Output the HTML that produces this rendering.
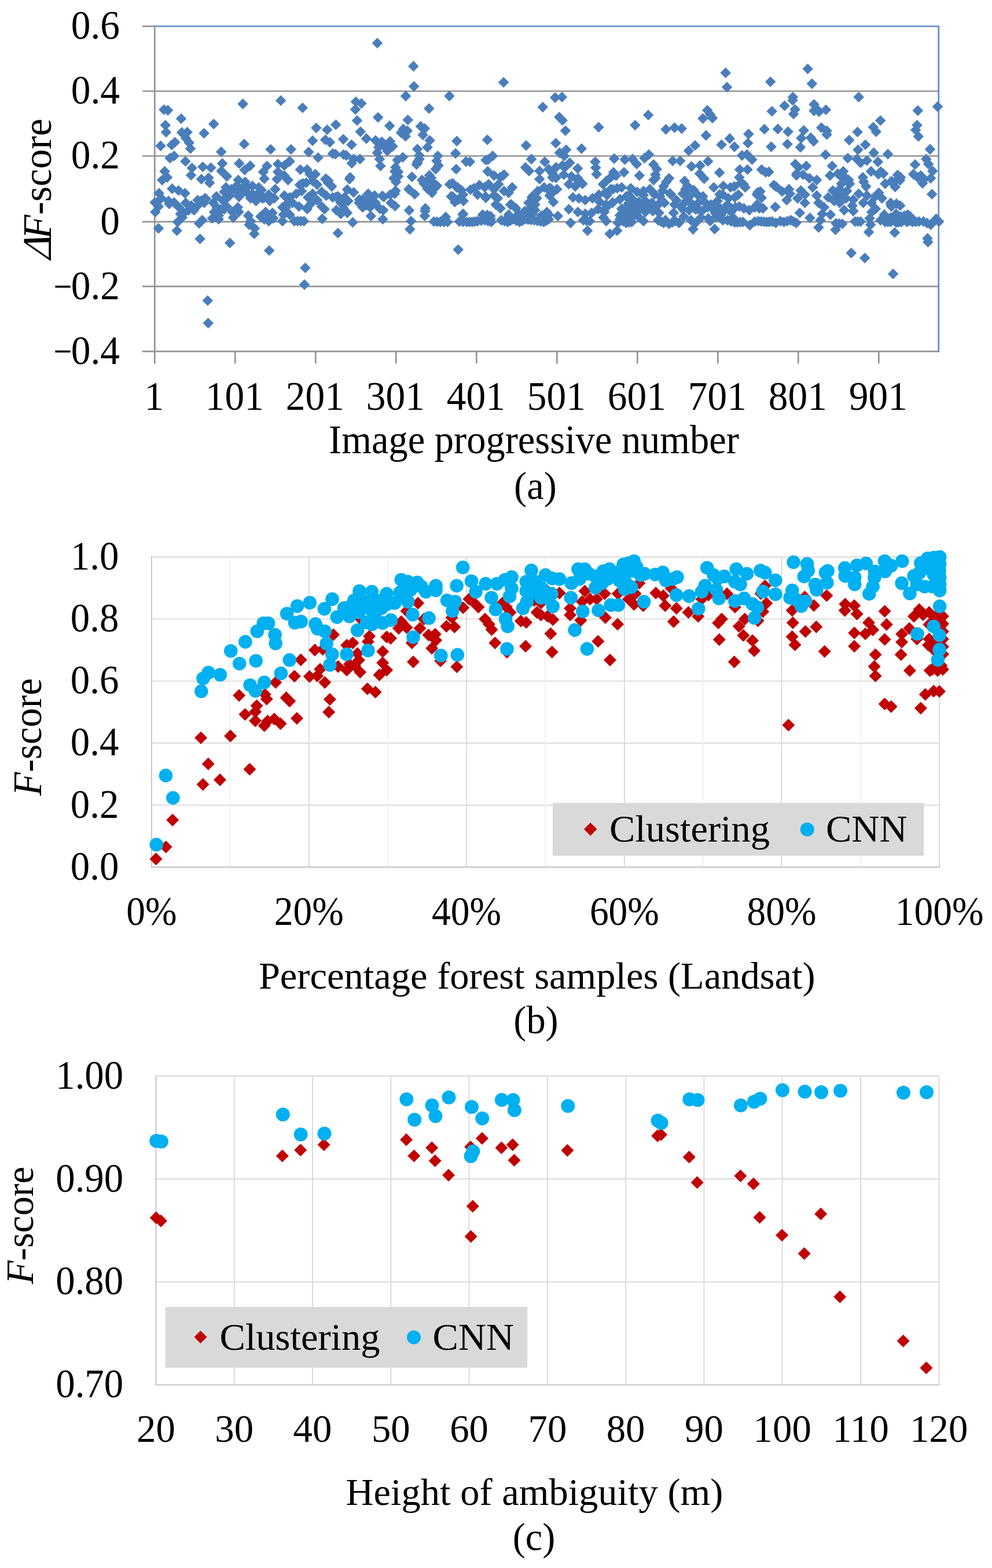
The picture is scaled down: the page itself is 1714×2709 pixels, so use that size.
<!DOCTYPE html>
<html lang="en"><head><meta charset="utf-8"><title>F-score charts</title>
<style>html,body{margin:0;padding:0;background:#fff}svg{display:block}text{font-family:"Liberation Serif","Times New Roman",serif;font-size:66.5px;fill:#000}.i{font-style:italic}</style></head><body>
<svg width="1714" height="2709" viewBox="0 0 1714 2709">
<rect width="1714" height="2709" fill="#fff"/>
<line x1="246.0" y1="45.4" x2="267.3" y2="45.4" stroke="#939393" stroke-width="2.7"/>
<line x1="246.0" y1="157.5" x2="1622.2" y2="157.5" stroke="#939393" stroke-width="2.7"/>
<line x1="246.0" y1="269.5" x2="1622.2" y2="269.5" stroke="#939393" stroke-width="2.7"/>
<line x1="246.0" y1="383.1" x2="1622.2" y2="383.1" stroke="#939393" stroke-width="2.7"/>
<line x1="246.0" y1="494.8" x2="1622.2" y2="494.8" stroke="#939393" stroke-width="2.7"/>
<line x1="246.0" y1="607.2" x2="1622.2" y2="607.2" stroke="#939393" stroke-width="2.7"/>
<line x1="267.3" y1="44.0" x2="267.3" y2="628.2" stroke="#939393" stroke-width="2.7"/>
<line x1="406.3" y1="607.2" x2="406.3" y2="628.2" stroke="#939393" stroke-width="2.7"/>
<line x1="545.3" y1="607.2" x2="545.3" y2="628.2" stroke="#939393" stroke-width="2.7"/>
<line x1="684.3" y1="607.2" x2="684.3" y2="628.2" stroke="#939393" stroke-width="2.7"/>
<line x1="823.3" y1="607.2" x2="823.3" y2="628.2" stroke="#939393" stroke-width="2.7"/>
<line x1="962.3" y1="607.2" x2="962.3" y2="628.2" stroke="#939393" stroke-width="2.7"/>
<line x1="1101.3" y1="607.2" x2="1101.3" y2="628.2" stroke="#939393" stroke-width="2.7"/>
<line x1="1240.3" y1="607.2" x2="1240.3" y2="628.2" stroke="#939393" stroke-width="2.7"/>
<line x1="1379.3" y1="607.2" x2="1379.3" y2="628.2" stroke="#939393" stroke-width="2.7"/>
<line x1="1518.3" y1="607.2" x2="1518.3" y2="628.2" stroke="#939393" stroke-width="2.7"/>
<line x1="268.3" y1="45.4" x2="1623.1" y2="45.4" stroke="#6c96cf" stroke-width="2.6"/>
<line x1="1621.8" y1="45.4" x2="1621.8" y2="608.3" stroke="#5b8ac9" stroke-width="2.6"/>
<text transform="translate(207.0 67.1) scale(1.013 1.062)" text-anchor="end">0.6</text>
<text transform="translate(207.0 179.2) scale(1.013 1.062)" text-anchor="end">0.4</text>
<text transform="translate(207.0 291.2) scale(1.013 1.062)" text-anchor="end">0.2</text>
<text transform="translate(207.0 404.8) scale(1.013 1.062)" text-anchor="end">0</text>
<text transform="translate(207.0 516.5) scale(1.013 1.062)" text-anchor="end"><tspan dy="-4.4" textLength="25.2" lengthAdjust="spacingAndGlyphs">–</tspan><tspan dy="4.4" dx="1.6">0.2</tspan></text>
<text transform="translate(207.0 628.9) scale(1.013 1.062)" text-anchor="end"><tspan dy="-4.4" textLength="25.2" lengthAdjust="spacingAndGlyphs">–</tspan><tspan dy="4.4" dx="1.6">0.4</tspan></text>
<text transform="translate(266.3 708.1) scale(1.013 1.062)" text-anchor="middle">1</text>
<text transform="translate(405.3 708.1) scale(1.013 1.062)" text-anchor="middle">101</text>
<text transform="translate(544.3 708.1) scale(1.013 1.062)" text-anchor="middle">201</text>
<text transform="translate(683.3 708.1) scale(1.013 1.062)" text-anchor="middle">301</text>
<text transform="translate(822.3 708.1) scale(1.013 1.062)" text-anchor="middle">401</text>
<text transform="translate(961.3 708.1) scale(1.013 1.062)" text-anchor="middle">501</text>
<text transform="translate(1100.3 708.1) scale(1.013 1.062)" text-anchor="middle">601</text>
<text transform="translate(1239.3 708.1) scale(1.013 1.062)" text-anchor="middle">701</text>
<text transform="translate(1378.3 708.1) scale(1.013 1.062)" text-anchor="middle">801</text>
<text transform="translate(1517.3 708.1) scale(1.013 1.062)" text-anchor="middle">901</text>
<text transform="translate(922.5 783.2) scale(1.000 1.040)" text-anchor="middle">Image progressive number</text>
<text transform="translate(925.0 861.7) scale(1.000 1.033)" text-anchor="middle">(a)</text>
<g transform="translate(88 334.4) rotate(-90) scale(1.023 1.06)"><text transform="translate(-116 0) skewX(-19)" text-anchor="start">Δ</text><text x="-76.5" y="0" text-anchor="start"><tspan class="i">F</tspan>-score</text></g>
<path d="M318.0 358.8l9.3 9.3l-9.3 9.3l-9.3 -9.3zM381.3 352.6l9.3 9.3l-9.3 9.3l-9.3 -9.3zM292.4 342.9l9.3 9.3l-9.3 9.3l-9.3 -9.3zM346.2 340.4l9.3 9.3l-9.3 9.3l-9.3 -9.3zM385.2 337.1l9.3 9.3l-9.3 9.3l-9.3 -9.3zM391.9 347.7l9.3 9.3l-9.3 9.3l-9.3 -9.3zM356.0 334.3l9.3 9.3l-9.3 9.3l-9.3 -9.3zM388.4 351.0l9.3 9.3l-9.3 9.3l-9.3 -9.3zM347.9 337.6l9.3 9.3l-9.3 9.3l-9.3 -9.3zM499.6 270.0l9.3 9.3l-9.3 9.3l-9.3 -9.3zM412.9 330.8l9.3 9.3l-9.3 9.3l-9.3 -9.3zM523.5 307.4l9.3 9.3l-9.3 9.3l-9.3 -9.3zM517.9 310.2l9.3 9.3l-9.3 9.3l-9.3 -9.3zM530.8 352.0l9.3 9.3l-9.3 9.3l-9.3 -9.3zM456.0 332.4l9.3 9.3l-9.3 9.3l-9.3 -9.3zM494.0 349.4l9.3 9.3l-9.3 9.3l-9.3 -9.3zM467.9 362.0l9.3 9.3l-9.3 9.3l-9.3 -9.3zM656.3 351.4l9.3 9.3l-9.3 9.3l-9.3 -9.3zM567.4 303.0l9.3 9.3l-9.3 9.3l-9.3 -9.3zM683.4 320.3l9.3 9.3l-9.3 9.3l-9.3 -9.3zM603.9 300.2l9.3 9.3l-9.3 9.3l-9.3 -9.3zM580.8 330.8l9.3 9.3l-9.3 9.3l-9.3 -9.3zM620.8 335.6l9.3 9.3l-9.3 9.3l-9.3 -9.3zM660.7 329.1l9.3 9.3l-9.3 9.3l-9.3 -9.3zM563.3 299.7l9.3 9.3l-9.3 9.3l-9.3 -9.3zM595.2 340.9l9.3 9.3l-9.3 9.3l-9.3 -9.3zM812.8 318.4l9.3 9.3l-9.3 9.3l-9.3 -9.3zM685.1 294.1l9.3 9.3l-9.3 9.3l-9.3 -9.3zM805.2 269.8l9.3 9.3l-9.3 9.3l-9.3 -9.3zM790.6 314.3l9.3 9.3l-9.3 9.3l-9.3 -9.3zM755.0 311.5l9.3 9.3l-9.3 9.3l-9.3 -9.3zM747.4 311.5l9.3 9.3l-9.3 9.3l-9.3 -9.3zM682.3 287.0l9.3 9.3l-9.3 9.3l-9.3 -9.3zM734.5 305.6l9.3 9.3l-9.3 9.3l-9.3 -9.3zM732.1 307.6l9.3 9.3l-9.3 9.3l-9.3 -9.3zM792.3 335.4l9.3 9.3l-9.3 9.3l-9.3 -9.3zM777.0 309.2l9.3 9.3l-9.3 9.3l-9.3 -9.3zM799.8 361.1l9.3 9.3l-9.3 9.3l-9.3 -9.3zM741.9 293.6l9.3 9.3l-9.3 9.3l-9.3 -9.3zM721.3 272.9l9.3 9.3l-9.3 9.3l-9.3 -9.3zM782.2 330.3l9.3 9.3l-9.3 9.3l-9.3 -9.3zM734.4 355.1l9.3 9.3l-9.3 9.3l-9.3 -9.3zM843.6 265.9l9.3 9.3l-9.3 9.3l-9.3 -9.3zM858.4 333.1l9.3 9.3l-9.3 9.3l-9.3 -9.3zM853.8 328.1l9.3 9.3l-9.3 9.3l-9.3 -9.3zM948.8 316.0l9.3 9.3l-9.3 9.3l-9.3 -9.3zM907.9 280.1l9.3 9.3l-9.3 9.3l-9.3 -9.3zM847.8 369.4l9.3 9.3l-9.3 9.3l-9.3 -9.3zM864.3 296.8l9.3 9.3l-9.3 9.3l-9.3 -9.3zM869.2 294.0l9.3 9.3l-9.3 9.3l-9.3 -9.3zM883.4 344.0l9.3 9.3l-9.3 9.3l-9.3 -9.3zM956.2 321.9l9.3 9.3l-9.3 9.3l-9.3 -9.3zM839.1 330.3l9.3 9.3l-9.3 9.3l-9.3 -9.3zM841.7 362.1l9.3 9.3l-9.3 9.3l-9.3 -9.3zM919.4 332.5l9.3 9.3l-9.3 9.3l-9.3 -9.3zM837.5 314.3l9.3 9.3l-9.3 9.3l-9.3 -9.3zM996.6 300.9l9.3 9.3l-9.3 9.3l-9.3 -9.3zM1084.0 359.2l9.3 9.3l-9.3 9.3l-9.3 -9.3zM976.9 279.0l9.3 9.3l-9.3 9.3l-9.3 -9.3zM1047.6 349.2l9.3 9.3l-9.3 9.3l-9.3 -9.3zM1059.0 317.9l9.3 9.3l-9.3 9.3l-9.3 -9.3zM1086.8 329.6l9.3 9.3l-9.3 9.3l-9.3 -9.3zM1064.3 294.2l9.3 9.3l-9.3 9.3l-9.3 -9.3zM1093.5 353.8l9.3 9.3l-9.3 9.3l-9.3 -9.3zM1132.6 298.5l9.3 9.3l-9.3 9.3l-9.3 -9.3zM1128.8 343.4l9.3 9.3l-9.3 9.3l-9.3 -9.3zM1205.8 351.9l9.3 9.3l-9.3 9.3l-9.3 -9.3zM1236.0 359.2l9.3 9.3l-9.3 9.3l-9.3 -9.3zM1284.8 309.2l9.3 9.3l-9.3 9.3l-9.3 -9.3zM1268.8 312.8l9.3 9.3l-9.3 9.3l-9.3 -9.3zM1243.4 326.6l9.3 9.3l-9.3 9.3l-9.3 -9.3zM1309.4 323.0l9.3 9.3l-9.3 9.3l-9.3 -9.3zM1266.1 368.2l9.3 9.3l-9.3 9.3l-9.3 -9.3zM1308.8 344.5l9.3 9.3l-9.3 9.3l-9.3 -9.3zM1341.2 313.5l9.3 9.3l-9.3 9.3l-9.3 -9.3zM1328.5 287.6l9.3 9.3l-9.3 9.3l-9.3 -9.3zM1307.8 326.8l9.3 9.3l-9.3 9.3l-9.3 -9.3zM1376.1 293.7l9.3 9.3l-9.3 9.3l-9.3 -9.3zM1307.3 345.1l9.3 9.3l-9.3 9.3l-9.3 -9.3zM1270.7 348.6l9.3 9.3l-9.3 9.3l-9.3 -9.3zM1521.9 287.3l9.3 9.3l-9.3 9.3l-9.3 -9.3zM1459.0 330.5l9.3 9.3l-9.3 9.3l-9.3 -9.3zM1453.7 296.1l9.3 9.3l-9.3 9.3l-9.3 -9.3zM1506.1 357.1l9.3 9.3l-9.3 9.3l-9.3 -9.3zM1585.3 296.9l9.3 9.3l-9.3 9.3l-9.3 -9.3zM1537.9 370.8l9.3 9.3l-9.3 9.3l-9.3 -9.3zM1548.8 342.5l9.3 9.3l-9.3 9.3l-9.3 -9.3zM1552.5 298.1l9.3 9.3l-9.3 9.3l-9.3 -9.3zM1539.5 345.2l9.3 9.3l-9.3 9.3l-9.3 -9.3zM1568.2 361.5l9.3 9.3l-9.3 9.3l-9.3 -9.3zM1542.7 307.2l9.3 9.3l-9.3 9.3l-9.3 -9.3zM1555.1 302.1l9.3 9.3l-9.3 9.3l-9.3 -9.3zM1551.0 292.9l9.3 9.3l-9.3 9.3l-9.3 -9.3zM514.1 372.7l9.3 9.3l-9.3 9.3l-9.3 -9.3zM519.6 372.7l9.3 9.3l-9.3 9.3l-9.3 -9.3zM755.2 373.8l9.3 9.3l-9.3 9.3l-9.3 -9.3zM767.0 374.2l9.3 9.3l-9.3 9.3l-9.3 -9.3zM800.0 373.8l9.3 9.3l-9.3 9.3l-9.3 -9.3zM811.1 374.2l9.3 9.3l-9.3 9.3l-9.3 -9.3zM820.5 373.5l9.3 9.3l-9.3 9.3l-9.3 -9.3zM831.5 371.9l9.3 9.3l-9.3 9.3l-9.3 -9.3zM843.3 372.7l9.3 9.3l-9.3 9.3l-9.3 -9.3zM871.7 372.7l9.3 9.3l-9.3 9.3l-9.3 -9.3zM881.9 371.9l9.3 9.3l-9.3 9.3l-9.3 -9.3zM892.2 371.9l9.3 9.3l-9.3 9.3l-9.3 -9.3zM902.4 371.9l9.3 9.3l-9.3 9.3l-9.3 -9.3zM912.4 370.0l9.3 9.3l-9.3 9.3l-9.3 -9.3zM917.6 370.6l9.3 9.3l-9.3 9.3l-9.3 -9.3zM928.4 372.1l9.3 9.3l-9.3 9.3l-9.3 -9.3zM933.9 373.2l9.3 9.3l-9.3 9.3l-9.3 -9.3zM943.7 371.9l9.3 9.3l-9.3 9.3l-9.3 -9.3zM1013.5 371.9l9.3 9.3l-9.3 9.3l-9.3 -9.3zM1076.5 372.7l9.3 9.3l-9.3 9.3l-9.3 -9.3zM1086.7 375.0l9.3 9.3l-9.3 9.3l-9.3 -9.3zM1141.9 373.5l9.3 9.3l-9.3 9.3l-9.3 -9.3zM1161.5 375.0l9.3 9.3l-9.3 9.3l-9.3 -9.3zM1263.2 373.1l9.3 9.3l-9.3 9.3l-9.3 -9.3zM1274.2 374.8l9.3 9.3l-9.3 9.3l-9.3 -9.3zM1278.9 374.5l9.3 9.3l-9.3 9.3l-9.3 -9.3zM1315.2 373.2l9.3 9.3l-9.3 9.3l-9.3 -9.3zM1319.9 373.7l9.3 9.3l-9.3 9.3l-9.3 -9.3zM1329.3 373.8l9.3 9.3l-9.3 9.3l-9.3 -9.3zM1360.4 372.7l9.3 9.3l-9.3 9.3l-9.3 -9.3zM1371.1 373.5l9.3 9.3l-9.3 9.3l-9.3 -9.3zM1449.9 377.0l9.3 9.3l-9.3 9.3l-9.3 -9.3zM1482.2 373.5l9.3 9.3l-9.3 9.3l-9.3 -9.3zM1534.1 374.2l9.3 9.3l-9.3 9.3l-9.3 -9.3zM1553.0 374.6l9.3 9.3l-9.3 9.3l-9.3 -9.3zM1571.9 371.9l9.3 9.3l-9.3 9.3l-9.3 -9.3zM1582.2 373.8l9.3 9.3l-9.3 9.3l-9.3 -9.3zM1601.9 376.2l9.3 9.3l-9.3 9.3l-9.3 -9.3zM1612.9 373.8l9.3 9.3l-9.3 9.3l-9.3 -9.3zM1543.1 464.0l9.3 9.3l-9.3 9.3l-9.3 -9.3zM359.7 549.0l9.3 9.3l-9.3 9.3l-9.3 -9.3zM358.8 509.9l9.3 9.3l-9.3 9.3l-9.3 -9.3zM526.0 482.4l9.3 9.3l-9.3 9.3l-9.3 -9.3zM527.4 453.4l9.3 9.3l-9.3 9.3l-9.3 -9.3zM1395.6 109.7l9.3 9.3l-9.3 9.3l-9.3 -9.3zM1253.7 116.6l9.3 9.3l-9.3 9.3l-9.3 -9.3zM714.3 105.1l9.3 9.3l-9.3 9.3l-9.3 -9.3zM651.9 65.2l9.3 9.3l-9.3 9.3l-9.3 -9.3zM1494.3 436.4l9.3 9.3l-9.3 9.3l-9.3 -9.3zM1470.8 427.8l9.3 9.3l-9.3 9.3l-9.3 -9.3zM1602.6 402.6l9.3 9.3l-9.3 9.3l-9.3 -9.3zM1603.4 408.9l9.3 9.3l-9.3 9.3l-9.3 -9.3zM1545.9 392.4l9.3 9.3l-9.3 9.3l-9.3 -9.3zM1622.3 373.5l9.3 9.3l-9.3 9.3l-9.3 -9.3zM1617.6 368.7l9.3 9.3l-9.3 9.3l-9.3 -9.3zM1608.1 379.0l9.3 9.3l-9.3 9.3l-9.3 -9.3zM1595.6 373.5l9.3 9.3l-9.3 9.3l-9.3 -9.3zM1587.7 373.5l9.3 9.3l-9.3 9.3l-9.3 -9.3zM1576.7 374.2l9.3 9.3l-9.3 9.3l-9.3 -9.3zM1567.2 374.2l9.3 9.3l-9.3 9.3l-9.3 -9.3zM1557.8 374.2l9.3 9.3l-9.3 9.3l-9.3 -9.3zM1548.3 375.0l9.3 9.3l-9.3 9.3l-9.3 -9.3zM1538.9 374.2l9.3 9.3l-9.3 9.3l-9.3 -9.3zM1529.4 374.2l9.3 9.3l-9.3 9.3l-9.3 -9.3zM1521.5 371.1l9.3 9.3l-9.3 9.3l-9.3 -9.3zM1443.6 387.6l9.3 9.3l-9.3 9.3l-9.3 -9.3zM1455.4 377.4l9.3 9.3l-9.3 9.3l-9.3 -9.3zM1444.4 376.6l9.3 9.3l-9.3 9.3l-9.3 -9.3zM1486.9 373.5l9.3 9.3l-9.3 9.3l-9.3 -9.3zM1477.4 373.5l9.3 9.3l-9.3 9.3l-9.3 -9.3zM1501.1 391.6l9.3 9.3l-9.3 9.3l-9.3 -9.3zM1504.2 379.0l9.3 9.3l-9.3 9.3l-9.3 -9.3zM1502.6 367.9l9.3 9.3l-9.3 9.3l-9.3 -9.3zM1576.7 369.5l9.3 9.3l-9.3 9.3l-9.3 -9.3zM1571.9 364.0l9.3 9.3l-9.3 9.3l-9.3 -9.3zM1562.5 363.2l9.3 9.3l-9.3 9.3l-9.3 -9.3zM1556.2 364.8l9.3 9.3l-9.3 9.3l-9.3 -9.3zM1548.3 360.1l9.3 9.3l-9.3 9.3l-9.3 -9.3zM1538.9 366.4l9.3 9.3l-9.3 9.3l-9.3 -9.3zM1527.8 361.6l9.3 9.3l-9.3 9.3l-9.3 -9.3zM1555.4 345.9l9.3 9.3l-9.3 9.3l-9.3 -9.3zM1540.4 347.5l9.3 9.3l-9.3 9.3l-9.3 -9.3zM1538.9 341.2l9.3 9.3l-9.3 9.3l-9.3 -9.3zM1512.9 351.4l9.3 9.3l-9.3 9.3l-9.3 -9.3zM1414.4 383.7l9.3 9.3l-9.3 9.3l-9.3 -9.3zM1417.6 371.1l9.3 9.3l-9.3 9.3l-9.3 -9.3zM1420.7 360.1l9.3 9.3l-9.3 9.3l-9.3 -9.3zM1434.9 361.6l9.3 9.3l-9.3 9.3l-9.3 -9.3zM1423.9 349.0l9.3 9.3l-9.3 9.3l-9.3 -9.3zM1444.4 330.1l9.3 9.3l-9.3 9.3l-9.3 -9.3zM1431.0 331.7l9.3 9.3l-9.3 9.3l-9.3 -9.3zM1441.2 338.0l9.3 9.3l-9.3 9.3l-9.3 -9.3zM1450.7 341.2l9.3 9.3l-9.3 9.3l-9.3 -9.3zM1458.5 353.8l9.3 9.3l-9.3 9.3l-9.3 -9.3zM1474.3 355.3l9.3 9.3l-9.3 9.3l-9.3 -9.3zM1472.7 345.9l9.3 9.3l-9.3 9.3l-9.3 -9.3zM1474.3 335.7l9.3 9.3l-9.3 9.3l-9.3 -9.3zM1491.6 341.2l9.3 9.3l-9.3 9.3l-9.3 -9.3zM1497.9 328.6l9.3 9.3l-9.3 9.3l-9.3 -9.3zM1523.9 333.3l9.3 9.3l-9.3 9.3l-9.3 -9.3zM1512.1 330.1l9.3 9.3l-9.3 9.3l-9.3 -9.3zM1518.4 323.8l9.3 9.3l-9.3 9.3l-9.3 -9.3zM1610.2 326.2l9.3 9.3l-9.3 9.3l-9.3 -9.3zM1463.3 320.7l9.3 9.3l-9.3 9.3l-9.3 -9.3zM1450.7 317.6l9.3 9.3l-9.3 9.3l-9.3 -9.3zM1438.9 319.9l9.3 9.3l-9.3 9.3l-9.3 -9.3zM1453.8 308.1l9.3 9.3l-9.3 9.3l-9.3 -9.3zM1468.0 308.1l9.3 9.3l-9.3 9.3l-9.3 -9.3zM1466.4 301.8l9.3 9.3l-9.3 9.3l-9.3 -9.3zM1458.5 295.5l9.3 9.3l-9.3 9.3l-9.3 -9.3zM1457.0 286.8l9.3 9.3l-9.3 9.3l-9.3 -9.3zM1447.5 290.8l9.3 9.3l-9.3 9.3l-9.3 -9.3zM1434.1 293.9l9.3 9.3l-9.3 9.3l-9.3 -9.3zM1496.3 312.8l9.3 9.3l-9.3 9.3l-9.3 -9.3zM1492.4 305.0l9.3 9.3l-9.3 9.3l-9.3 -9.3zM1490.8 297.1l9.3 9.3l-9.3 9.3l-9.3 -9.3zM1546.7 313.6l9.3 9.3l-9.3 9.3l-9.3 -9.3zM1529.4 308.1l9.3 9.3l-9.3 9.3l-9.3 -9.3zM1540.4 303.4l9.3 9.3l-9.3 9.3l-9.3 -9.3zM1526.3 290.8l9.3 9.3l-9.3 9.3l-9.3 -9.3zM1517.6 291.6l9.3 9.3l-9.3 9.3l-9.3 -9.3zM1505.0 286.8l9.3 9.3l-9.3 9.3l-9.3 -9.3zM1556.2 297.1l9.3 9.3l-9.3 9.3l-9.3 -9.3zM1594.0 307.3l9.3 9.3l-9.3 9.3l-9.3 -9.3zM1597.1 300.2l9.3 9.3l-9.3 9.3l-9.3 -9.3zM1608.1 298.7l9.3 9.3l-9.3 9.3l-9.3 -9.3zM1590.8 293.9l9.3 9.3l-9.3 9.3l-9.3 -9.3zM1578.2 291.6l9.3 9.3l-9.3 9.3l-9.3 -9.3zM1611.3 286.1l9.3 9.3l-9.3 9.3l-9.3 -9.3zM1581.1 275.0l9.3 9.3l-9.3 9.3l-9.3 -9.3zM1604.2 274.2l9.3 9.3l-9.3 9.3l-9.3 -9.3zM1600.3 265.6l9.3 9.3l-9.3 9.3l-9.3 -9.3zM1437.8 277.4l9.3 9.3l-9.3 9.3l-9.3 -9.3zM1516.8 270.3l9.3 9.3l-9.3 9.3l-9.3 -9.3zM1497.9 267.9l9.3 9.3l-9.3 9.3l-9.3 -9.3zM1486.9 271.9l9.3 9.3l-9.3 9.3l-9.3 -9.3zM1480.6 265.6l9.3 9.3l-9.3 9.3l-9.3 -9.3zM1464.8 264.0l9.3 9.3l-9.3 9.3l-9.3 -9.3zM1426.3 258.0l9.3 9.3l-9.3 9.3l-9.3 -9.3zM1607.0 248.6l9.3 9.3l-9.3 9.3l-9.3 -9.3zM1534.1 256.9l9.3 9.3l-9.3 9.3l-9.3 -9.3zM1509.7 254.6l9.3 9.3l-9.3 9.3l-9.3 -9.3zM1482.5 249.5l9.3 9.3l-9.3 9.3l-9.3 -9.3zM1495.2 240.7l9.3 9.3l-9.3 9.3l-9.3 -9.3zM1467.2 232.8l9.3 9.3l-9.3 9.3l-9.3 -9.3zM1481.7 218.7l9.3 9.3l-9.3 9.3l-9.3 -9.3zM1428.6 223.1l9.3 9.3l-9.3 9.3l-9.3 -9.3zM1428.6 216.8l9.3 9.3l-9.3 9.3l-9.3 -9.3zM1419.2 211.3l9.3 9.3l-9.3 9.3l-9.3 -9.3zM1586.9 226.5l9.3 9.3l-9.3 9.3l-9.3 -9.3zM1582.2 215.2l9.3 9.3l-9.3 9.3l-9.3 -9.3zM1584.5 207.0l9.3 9.3l-9.3 9.3l-9.3 -9.3zM1513.7 218.3l9.3 9.3l-9.3 9.3l-9.3 -9.3zM1508.9 210.5l9.3 9.3l-9.3 9.3l-9.3 -9.3zM1521.2 199.0l9.3 9.3l-9.3 9.3l-9.3 -9.3zM1415.2 183.7l9.3 9.3l-9.3 9.3l-9.3 -9.3zM1427.0 180.5l9.3 9.3l-9.3 9.3l-9.3 -9.3zM1585.8 181.8l9.3 9.3l-9.3 9.3l-9.3 -9.3zM1620.0 175.0l9.3 9.3l-9.3 9.3l-9.3 -9.3zM1483.7 158.5l9.3 9.3l-9.3 9.3l-9.3 -9.3zM1564.1 368.7l9.3 9.3l-9.3 9.3l-9.3 -9.3zM1546.7 369.5l9.3 9.3l-9.3 9.3l-9.3 -9.3zM1505.8 341.2l9.3 9.3l-9.3 9.3l-9.3 -9.3zM1483.7 325.4l9.3 9.3l-9.3 9.3l-9.3 -9.3zM1461.7 333.3l9.3 9.3l-9.3 9.3l-9.3 -9.3zM1452.2 328.6l9.3 9.3l-9.3 9.3l-9.3 -9.3zM1234.8 386.5l9.3 9.3l-9.3 9.3l-9.3 -9.3zM1197.5 386.8l9.3 9.3l-9.3 9.3l-9.3 -9.3zM1375.8 375.8l9.3 9.3l-9.3 9.3l-9.3 -9.3zM1366.3 371.1l9.3 9.3l-9.3 9.3l-9.3 -9.3zM1354.5 374.2l9.3 9.3l-9.3 9.3l-9.3 -9.3zM1348.2 372.7l9.3 9.3l-9.3 9.3l-9.3 -9.3zM1340.4 375.8l9.3 9.3l-9.3 9.3l-9.3 -9.3zM1334.1 373.5l9.3 9.3l-9.3 9.3l-9.3 -9.3zM1324.6 374.2l9.3 9.3l-9.3 9.3l-9.3 -9.3zM1310.4 372.7l9.3 9.3l-9.3 9.3l-9.3 -9.3zM1304.1 373.5l9.3 9.3l-9.3 9.3l-9.3 -9.3zM1295.5 379.8l9.3 9.3l-9.3 9.3l-9.3 -9.3zM1283.7 374.2l9.3 9.3l-9.3 9.3l-9.3 -9.3zM1269.5 375.0l9.3 9.3l-9.3 9.3l-9.3 -9.3zM1266.3 366.4l9.3 9.3l-9.3 9.3l-9.3 -9.3zM1256.9 371.1l9.3 9.3l-9.3 9.3l-9.3 -9.3zM1245.9 361.6l9.3 9.3l-9.3 9.3l-9.3 -9.3zM1238.0 364.8l9.3 9.3l-9.3 9.3l-9.3 -9.3zM1227.0 372.7l9.3 9.3l-9.3 9.3l-9.3 -9.3zM1223.8 367.9l9.3 9.3l-9.3 9.3l-9.3 -9.3zM1201.8 375.8l9.3 9.3l-9.3 9.3l-9.3 -9.3zM1193.9 371.1l9.3 9.3l-9.3 9.3l-9.3 -9.3zM1399.4 367.2l9.3 9.3l-9.3 9.3l-9.3 -9.3zM1381.8 358.5l9.3 9.3l-9.3 9.3l-9.3 -9.3zM1339.6 348.3l9.3 9.3l-9.3 9.3l-9.3 -9.3zM1318.3 350.6l9.3 9.3l-9.3 9.3l-9.3 -9.3zM1312.0 350.6l9.3 9.3l-9.3 9.3l-9.3 -9.3zM1304.1 349.0l9.3 9.3l-9.3 9.3l-9.3 -9.3zM1294.7 353.8l9.3 9.3l-9.3 9.3l-9.3 -9.3zM1285.2 350.6l9.3 9.3l-9.3 9.3l-9.3 -9.3zM1277.4 347.5l9.3 9.3l-9.3 9.3l-9.3 -9.3zM1252.2 353.8l9.3 9.3l-9.3 9.3l-9.3 -9.3zM1242.7 349.0l9.3 9.3l-9.3 9.3l-9.3 -9.3zM1212.8 355.3l9.3 9.3l-9.3 9.3l-9.3 -9.3zM1201.8 352.2l9.3 9.3l-9.3 9.3l-9.3 -9.3zM1190.7 353.8l9.3 9.3l-9.3 9.3l-9.3 -9.3zM1275.8 327.0l9.3 9.3l-9.3 9.3l-9.3 -9.3zM1269.5 331.7l9.3 9.3l-9.3 9.3l-9.3 -9.3zM1258.5 333.3l9.3 9.3l-9.3 9.3l-9.3 -9.3zM1249.0 327.0l9.3 9.3l-9.3 9.3l-9.3 -9.3zM1239.6 338.0l9.3 9.3l-9.3 9.3l-9.3 -9.3zM1228.5 344.3l9.3 9.3l-9.3 9.3l-9.3 -9.3zM1217.5 339.6l9.3 9.3l-9.3 9.3l-9.3 -9.3zM1206.5 341.2l9.3 9.3l-9.3 9.3l-9.3 -9.3zM1195.5 342.7l9.3 9.3l-9.3 9.3l-9.3 -9.3zM1204.9 327.0l9.3 9.3l-9.3 9.3l-9.3 -9.3zM1190.7 330.1l9.3 9.3l-9.3 9.3l-9.3 -9.3zM1414.4 341.2l9.3 9.3l-9.3 9.3l-9.3 -9.3zM1411.2 328.6l9.3 9.3l-9.3 9.3l-9.3 -9.3zM1404.1 314.4l9.3 9.3l-9.3 9.3l-9.3 -9.3zM1390.7 341.2l9.3 9.3l-9.3 9.3l-9.3 -9.3zM1378.1 333.3l9.3 9.3l-9.3 9.3l-9.3 -9.3zM1390.7 327.0l9.3 9.3l-9.3 9.3l-9.3 -9.3zM1383.7 319.9l9.3 9.3l-9.3 9.3l-9.3 -9.3zM1359.3 336.4l9.3 9.3l-9.3 9.3l-9.3 -9.3zM1364.8 325.4l9.3 9.3l-9.3 9.3l-9.3 -9.3zM1363.2 317.6l9.3 9.3l-9.3 9.3l-9.3 -9.3zM1351.4 321.5l9.3 9.3l-9.3 9.3l-9.3 -9.3zM1315.9 332.5l9.3 9.3l-9.3 9.3l-9.3 -9.3zM1313.6 321.5l9.3 9.3l-9.3 9.3l-9.3 -9.3zM1262.4 314.4l9.3 9.3l-9.3 9.3l-9.3 -9.3zM1249.8 312.0l9.3 9.3l-9.3 9.3l-9.3 -9.3zM1233.3 314.4l9.3 9.3l-9.3 9.3l-9.3 -9.3zM1198.6 319.1l9.3 9.3l-9.3 9.3l-9.3 -9.3zM1187.6 312.0l9.3 9.3l-9.3 9.3l-9.3 -9.3zM1337.2 310.5l9.3 9.3l-9.3 9.3l-9.3 -9.3zM1411.2 301.8l9.3 9.3l-9.3 9.3l-9.3 -9.3zM1398.6 298.7l9.3 9.3l-9.3 9.3l-9.3 -9.3zM1387.6 292.4l9.3 9.3l-9.3 9.3l-9.3 -9.3zM1376.6 290.8l9.3 9.3l-9.3 9.3l-9.3 -9.3zM1393.1 277.4l9.3 9.3l-9.3 9.3l-9.3 -9.3zM1379.7 279.8l9.3 9.3l-9.3 9.3l-9.3 -9.3zM1374.2 274.2l9.3 9.3l-9.3 9.3l-9.3 -9.3zM1287.6 314.4l9.3 9.3l-9.3 9.3l-9.3 -9.3zM1280.5 306.5l9.3 9.3l-9.3 9.3l-9.3 -9.3zM1277.4 297.1l9.3 9.3l-9.3 9.3l-9.3 -9.3zM1323.0 288.4l9.3 9.3l-9.3 9.3l-9.3 -9.3zM1315.9 283.7l9.3 9.3l-9.3 9.3l-9.3 -9.3zM1291.5 283.7l9.3 9.3l-9.3 9.3l-9.3 -9.3zM1278.1 283.7l9.3 9.3l-9.3 9.3l-9.3 -9.3zM1243.2 288.9l9.3 9.3l-9.3 9.3l-9.3 -9.3zM1216.7 299.4l9.3 9.3l-9.3 9.3l-9.3 -9.3zM1208.9 290.8l9.3 9.3l-9.3 9.3l-9.3 -9.3zM1209.6 276.6l9.3 9.3l-9.3 9.3l-9.3 -9.3zM1194.7 278.2l9.3 9.3l-9.3 9.3l-9.3 -9.3zM1223.3 269.5l9.3 9.3l-9.3 9.3l-9.3 -9.3zM1299.4 266.4l9.3 9.3l-9.3 9.3l-9.3 -9.3zM1290.7 257.7l9.3 9.3l-9.3 9.3l-9.3 -9.3zM1282.1 259.3l9.3 9.3l-9.3 9.3l-9.3 -9.3zM1190.0 251.1l9.3 9.3l-9.3 9.3l-9.3 -9.3zM1201.0 242.0l9.3 9.3l-9.3 9.3l-9.3 -9.3zM1269.0 244.3l9.3 9.3l-9.3 9.3l-9.3 -9.3zM1246.7 240.7l9.3 9.3l-9.3 9.3l-9.3 -9.3zM1260.8 230.1l9.3 9.3l-9.3 9.3l-9.3 -9.3zM1292.3 238.0l9.3 9.3l-9.3 9.3l-9.3 -9.3zM1293.4 222.3l9.3 9.3l-9.3 9.3l-9.3 -9.3zM1332.5 244.3l9.3 9.3l-9.3 9.3l-9.3 -9.3zM1360.5 239.6l9.3 9.3l-9.3 9.3l-9.3 -9.3zM1382.9 245.1l9.3 9.3l-9.3 9.3l-9.3 -9.3zM1405.7 234.9l9.3 9.3l-9.3 9.3l-9.3 -9.3zM1401.0 228.6l9.3 9.3l-9.3 9.3l-9.3 -9.3zM1384.4 229.4l9.3 9.3l-9.3 9.3l-9.3 -9.3zM1388.7 216.0l9.3 9.3l-9.3 9.3l-9.3 -9.3zM1361.6 218.3l9.3 9.3l-9.3 9.3l-9.3 -9.3zM1344.0 213.6l9.3 9.3l-9.3 9.3l-9.3 -9.3zM1320.7 213.9l9.3 9.3l-9.3 9.3l-9.3 -9.3zM1219.9 224.6l9.3 9.3l-9.3 9.3l-9.3 -9.3zM1230.9 194.7l9.3 9.3l-9.3 9.3l-9.3 -9.3zM1214.4 195.5l9.3 9.3l-9.3 9.3l-9.3 -9.3zM1227.0 188.4l9.3 9.3l-9.3 9.3l-9.3 -9.3zM1222.2 181.3l9.3 9.3l-9.3 9.3l-9.3 -9.3zM1406.5 182.1l9.3 9.3l-9.3 9.3l-9.3 -9.3zM1411.2 179.0l9.3 9.3l-9.3 9.3l-9.3 -9.3zM1406.5 171.1l9.3 9.3l-9.3 9.3l-9.3 -9.3zM1333.7 182.9l9.3 9.3l-9.3 9.3l-9.3 -9.3zM1371.1 187.6l9.3 9.3l-9.3 9.3l-9.3 -9.3zM1373.7 179.8l9.3 9.3l-9.3 9.3l-9.3 -9.3zM1355.6 173.5l9.3 9.3l-9.3 9.3l-9.3 -9.3zM1369.5 164.0l9.3 9.3l-9.3 9.3l-9.3 -9.3zM1370.0 158.5l9.3 9.3l-9.3 9.3l-9.3 -9.3zM1402.9 135.3l9.3 9.3l-9.3 9.3l-9.3 -9.3zM1331.2 132.0l9.3 9.3l-9.3 9.3l-9.3 -9.3zM1256.1 141.2l9.3 9.3l-9.3 9.3l-9.3 -9.3zM1181.3 364.8l9.3 9.3l-9.3 9.3l-9.3 -9.3zM1179.7 352.2l9.3 9.3l-9.3 9.3l-9.3 -9.3zM1184.4 339.6l9.3 9.3l-9.3 9.3l-9.3 -9.3zM1179.7 325.4l9.3 9.3l-9.3 9.3l-9.3 -9.3zM1249.0 371.1l9.3 9.3l-9.3 9.3l-9.3 -9.3zM1263.2 356.9l9.3 9.3l-9.3 9.3l-9.3 -9.3zM1256.9 344.3l9.3 9.3l-9.3 9.3l-9.3 -9.3zM1233.3 353.8l9.3 9.3l-9.3 9.3l-9.3 -9.3zM1211.2 366.4l9.3 9.3l-9.3 9.3l-9.3 -9.3zM1222.2 349.0l9.3 9.3l-9.3 9.3l-9.3 -9.3zM1184.4 317.6l9.3 9.3l-9.3 9.3l-9.3 -9.3zM1214.4 330.1l9.3 9.3l-9.3 9.3l-9.3 -9.3zM1066.3 389.2l9.3 9.3l-9.3 9.3l-9.3 -9.3zM1053.7 394.7l9.3 9.3l-9.3 9.3l-9.3 -9.3zM1015.1 389.2l9.3 9.3l-9.3 9.3l-9.3 -9.3zM1091.5 374.2l9.3 9.3l-9.3 9.3l-9.3 -9.3zM1082.0 375.8l9.3 9.3l-9.3 9.3l-9.3 -9.3zM1067.8 375.8l9.3 9.3l-9.3 9.3l-9.3 -9.3zM985.9 375.8l9.3 9.3l-9.3 9.3l-9.3 -9.3zM1173.3 375.8l9.3 9.3l-9.3 9.3l-9.3 -9.3zM1167.0 372.7l9.3 9.3l-9.3 9.3l-9.3 -9.3zM1156.0 377.4l9.3 9.3l-9.3 9.3l-9.3 -9.3zM1146.6 375.8l9.3 9.3l-9.3 9.3l-9.3 -9.3zM1137.1 371.1l9.3 9.3l-9.3 9.3l-9.3 -9.3zM1111.9 372.7l9.3 9.3l-9.3 9.3l-9.3 -9.3zM1102.5 364.8l9.3 9.3l-9.3 9.3l-9.3 -9.3zM1091.5 366.4l9.3 9.3l-9.3 9.3l-9.3 -9.3zM1080.4 361.6l9.3 9.3l-9.3 9.3l-9.3 -9.3zM1071.0 369.5l9.3 9.3l-9.3 9.3l-9.3 -9.3zM1047.4 372.7l9.3 9.3l-9.3 9.3l-9.3 -9.3zM1042.6 366.4l9.3 9.3l-9.3 9.3l-9.3 -9.3zM1019.0 372.7l9.3 9.3l-9.3 9.3l-9.3 -9.3zM1008.0 371.1l9.3 9.3l-9.3 9.3l-9.3 -9.3zM963.9 364.0l9.3 9.3l-9.3 9.3l-9.3 -9.3zM1163.9 358.5l9.3 9.3l-9.3 9.3l-9.3 -9.3zM1138.7 358.5l9.3 9.3l-9.3 9.3l-9.3 -9.3zM1127.7 355.3l9.3 9.3l-9.3 9.3l-9.3 -9.3zM1115.1 356.9l9.3 9.3l-9.3 9.3l-9.3 -9.3zM1104.1 353.8l9.3 9.3l-9.3 9.3l-9.3 -9.3zM1093.0 350.6l9.3 9.3l-9.3 9.3l-9.3 -9.3zM1082.0 347.5l9.3 9.3l-9.3 9.3l-9.3 -9.3zM1044.2 356.9l9.3 9.3l-9.3 9.3l-9.3 -9.3zM1033.2 352.2l9.3 9.3l-9.3 9.3l-9.3 -9.3zM1022.2 358.5l9.3 9.3l-9.3 9.3l-9.3 -9.3zM1011.1 360.1l9.3 9.3l-9.3 9.3l-9.3 -9.3zM998.5 356.9l9.3 9.3l-9.3 9.3l-9.3 -9.3zM982.8 352.2l9.3 9.3l-9.3 9.3l-9.3 -9.3zM1176.5 347.5l9.3 9.3l-9.3 9.3l-9.3 -9.3zM1165.5 344.3l9.3 9.3l-9.3 9.3l-9.3 -9.3zM1148.1 341.2l9.3 9.3l-9.3 9.3l-9.3 -9.3zM1137.1 344.3l9.3 9.3l-9.3 9.3l-9.3 -9.3zM1126.1 341.2l9.3 9.3l-9.3 9.3l-9.3 -9.3zM1115.1 338.0l9.3 9.3l-9.3 9.3l-9.3 -9.3zM1104.1 339.6l9.3 9.3l-9.3 9.3l-9.3 -9.3zM1093.0 334.9l9.3 9.3l-9.3 9.3l-9.3 -9.3zM1082.0 330.1l9.3 9.3l-9.3 9.3l-9.3 -9.3zM1071.0 334.9l9.3 9.3l-9.3 9.3l-9.3 -9.3zM1058.4 341.2l9.3 9.3l-9.3 9.3l-9.3 -9.3zM1047.4 344.3l9.3 9.3l-9.3 9.3l-9.3 -9.3zM1036.3 339.6l9.3 9.3l-9.3 9.3l-9.3 -9.3zM1159.2 327.0l9.3 9.3l-9.3 9.3l-9.3 -9.3zM1140.3 330.1l9.3 9.3l-9.3 9.3l-9.3 -9.3zM1130.8 325.4l9.3 9.3l-9.3 9.3l-9.3 -9.3zM1123.0 317.6l9.3 9.3l-9.3 9.3l-9.3 -9.3zM1111.9 320.7l9.3 9.3l-9.3 9.3l-9.3 -9.3zM1100.9 322.3l9.3 9.3l-9.3 9.3l-9.3 -9.3zM1089.9 316.0l9.3 9.3l-9.3 9.3l-9.3 -9.3zM1074.1 314.4l9.3 9.3l-9.3 9.3l-9.3 -9.3zM1066.3 316.0l9.3 9.3l-9.3 9.3l-9.3 -9.3zM1055.2 317.6l9.3 9.3l-9.3 9.3l-9.3 -9.3zM1045.8 323.8l9.3 9.3l-9.3 9.3l-9.3 -9.3zM1034.8 327.0l9.3 9.3l-9.3 9.3l-9.3 -9.3zM1023.7 333.3l9.3 9.3l-9.3 9.3l-9.3 -9.3zM1011.1 336.4l9.3 9.3l-9.3 9.3l-9.3 -9.3zM1000.1 333.3l9.3 9.3l-9.3 9.3l-9.3 -9.3zM989.9 331.7l9.3 9.3l-9.3 9.3l-9.3 -9.3zM956.0 339.6l9.3 9.3l-9.3 9.3l-9.3 -9.3zM962.3 317.6l9.3 9.3l-9.3 9.3l-9.3 -9.3zM993.8 312.8l9.3 9.3l-9.3 9.3l-9.3 -9.3zM982.8 308.9l9.3 9.3l-9.3 9.3l-9.3 -9.3zM1006.4 308.1l9.3 9.3l-9.3 9.3l-9.3 -9.3zM998.5 298.7l9.3 9.3l-9.3 9.3l-9.3 -9.3zM987.5 295.5l9.3 9.3l-9.3 9.3l-9.3 -9.3zM974.1 292.4l9.3 9.3l-9.3 9.3l-9.3 -9.3zM1182.8 303.4l9.3 9.3l-9.3 9.3l-9.3 -9.3zM1146.6 312.8l9.3 9.3l-9.3 9.3l-9.3 -9.3zM1151.3 305.0l9.3 9.3l-9.3 9.3l-9.3 -9.3zM1156.0 298.7l9.3 9.3l-9.3 9.3l-9.3 -9.3zM1129.3 301.8l9.3 9.3l-9.3 9.3l-9.3 -9.3zM1132.4 292.4l9.3 9.3l-9.3 9.3l-9.3 -9.3zM1134.8 282.9l9.3 9.3l-9.3 9.3l-9.3 -9.3zM1129.3 275.0l9.3 9.3l-9.3 9.3l-9.3 -9.3zM1104.8 293.9l9.3 9.3l-9.3 9.3l-9.3 -9.3zM1041.9 308.9l9.3 9.3l-9.3 9.3l-9.3 -9.3zM1047.4 303.4l9.3 9.3l-9.3 9.3l-9.3 -9.3zM1055.2 297.1l9.3 9.3l-9.3 9.3l-9.3 -9.3zM1060.0 288.4l9.3 9.3l-9.3 9.3l-9.3 -9.3zM1078.1 288.4l9.3 9.3l-9.3 9.3l-9.3 -9.3zM954.4 297.1l9.3 9.3l-9.3 9.3l-9.3 -9.3zM960.7 279.8l9.3 9.3l-9.3 9.3l-9.3 -9.3zM971.8 276.6l9.3 9.3l-9.3 9.3l-9.3 -9.3zM984.4 271.9l9.3 9.3l-9.3 9.3l-9.3 -9.3zM998.2 281.6l9.3 9.3l-9.3 9.3l-9.3 -9.3zM1030.8 291.6l9.3 9.3l-9.3 9.3l-9.3 -9.3zM1029.3 280.5l9.3 9.3l-9.3 9.3l-9.3 -9.3zM1028.5 270.3l9.3 9.3l-9.3 9.3l-9.3 -9.3zM1175.2 268.7l9.3 9.3l-9.3 9.3l-9.3 -9.3zM1162.3 268.7l9.3 9.3l-9.3 9.3l-9.3 -9.3zM1100.1 274.2l9.3 9.3l-9.3 9.3l-9.3 -9.3zM1093.0 265.6l9.3 9.3l-9.3 9.3l-9.3 -9.3zM1079.6 266.4l9.3 9.3l-9.3 9.3l-9.3 -9.3zM1061.2 264.8l9.3 9.3l-9.3 9.3l-9.3 -9.3zM1113.5 264.0l9.3 9.3l-9.3 9.3l-9.3 -9.3zM1121.1 257.7l9.3 9.3l-9.3 9.3l-9.3 -9.3zM974.9 260.1l9.3 9.3l-9.3 9.3l-9.3 -9.3zM967.0 254.6l9.3 9.3l-9.3 9.3l-9.3 -9.3zM978.1 249.5l9.3 9.3l-9.3 9.3l-9.3 -9.3zM1004.8 247.5l9.3 9.3l-9.3 9.3l-9.3 -9.3zM960.3 238.0l9.3 9.3l-9.3 9.3l-9.3 -9.3zM1177.8 212.8l9.3 9.3l-9.3 9.3l-9.3 -9.3zM1165.5 211.3l9.3 9.3l-9.3 9.3l-9.3 -9.3zM1150.5 214.1l9.3 9.3l-9.3 9.3l-9.3 -9.3zM1120.1 189.5l9.3 9.3l-9.3 9.3l-9.3 -9.3zM1097.4 207.0l9.3 9.3l-9.3 9.3l-9.3 -9.3zM1034.4 210.5l9.3 9.3l-9.3 9.3l-9.3 -9.3zM977.0 216.4l9.3 9.3l-9.3 9.3l-9.3 -9.3zM971.8 198.7l9.3 9.3l-9.3 9.3l-9.3 -9.3zM966.3 193.1l9.3 9.3l-9.3 9.3l-9.3 -9.3zM971.0 158.5l9.3 9.3l-9.3 9.3l-9.3 -9.3zM959.2 159.3l9.3 9.3l-9.3 9.3l-9.3 -9.3zM1157.6 324.8l9.3 9.3l-9.3 9.3l-9.3 -9.3zM1145.0 320.1l9.3 9.3l-9.3 9.3l-9.3 -9.3zM1130.8 326.4l9.3 9.3l-9.3 9.3l-9.3 -9.3zM1111.9 327.9l9.3 9.3l-9.3 9.3l-9.3 -9.3zM1086.7 327.9l9.3 9.3l-9.3 9.3l-9.3 -9.3zM1071.0 362.6l9.3 9.3l-9.3 9.3l-9.3 -9.3zM1074.1 351.6l9.3 9.3l-9.3 9.3l-9.3 -9.3zM1058.4 340.5l9.3 9.3l-9.3 9.3l-9.3 -9.3zM1048.9 327.9l9.3 9.3l-9.3 9.3l-9.3 -9.3zM960.7 298.0l9.3 9.3l-9.3 9.3l-9.3 -9.3zM954.4 290.1l9.3 9.3l-9.3 9.3l-9.3 -9.3zM948.1 361.6l9.3 9.3l-9.3 9.3l-9.3 -9.3zM949.7 328.6l9.3 9.3l-9.3 9.3l-9.3 -9.3zM951.3 316.0l9.3 9.3l-9.3 9.3l-9.3 -9.3zM1168.6 336.4l9.3 9.3l-9.3 9.3l-9.3 -9.3zM1149.7 371.1l9.3 9.3l-9.3 9.3l-9.3 -9.3zM1097.8 356.9l9.3 9.3l-9.3 9.3l-9.3 -9.3zM1086.7 356.9l9.3 9.3l-9.3 9.3l-9.3 -9.3zM1130.8 349.0l9.3 9.3l-9.3 9.3l-9.3 -9.3zM1119.8 347.5l9.3 9.3l-9.3 9.3l-9.3 -9.3zM1108.8 347.5l9.3 9.3l-9.3 9.3l-9.3 -9.3zM1097.8 344.3l9.3 9.3l-9.3 9.3l-9.3 -9.3zM1086.7 341.2l9.3 9.3l-9.3 9.3l-9.3 -9.3zM791.7 422.0l9.3 9.3l-9.3 9.3l-9.3 -9.3zM878.8 361.6l9.3 9.3l-9.3 9.3l-9.3 -9.3zM939.4 374.2l9.3 9.3l-9.3 9.3l-9.3 -9.3zM922.9 371.1l9.3 9.3l-9.3 9.3l-9.3 -9.3zM907.1 369.5l9.3 9.3l-9.3 9.3l-9.3 -9.3zM897.7 374.2l9.3 9.3l-9.3 9.3l-9.3 -9.3zM886.7 369.5l9.3 9.3l-9.3 9.3l-9.3 -9.3zM877.2 374.2l9.3 9.3l-9.3 9.3l-9.3 -9.3zM866.2 371.1l9.3 9.3l-9.3 9.3l-9.3 -9.3zM848.9 374.2l9.3 9.3l-9.3 9.3l-9.3 -9.3zM847.3 364.0l9.3 9.3l-9.3 9.3l-9.3 -9.3zM837.8 371.1l9.3 9.3l-9.3 9.3l-9.3 -9.3zM833.9 361.6l9.3 9.3l-9.3 9.3l-9.3 -9.3zM825.2 372.7l9.3 9.3l-9.3 9.3l-9.3 -9.3zM815.8 374.2l9.3 9.3l-9.3 9.3l-9.3 -9.3zM806.3 374.2l9.3 9.3l-9.3 9.3l-9.3 -9.3zM793.7 373.5l9.3 9.3l-9.3 9.3l-9.3 -9.3zM800.0 360.1l9.3 9.3l-9.3 9.3l-9.3 -9.3zM773.3 374.2l9.3 9.3l-9.3 9.3l-9.3 -9.3zM770.1 365.6l9.3 9.3l-9.3 9.3l-9.3 -9.3zM760.7 374.2l9.3 9.3l-9.3 9.3l-9.3 -9.3zM749.6 373.5l9.3 9.3l-9.3 9.3l-9.3 -9.3zM733.9 363.7l9.3 9.3l-9.3 9.3l-9.3 -9.3zM735.0 350.6l9.3 9.3l-9.3 9.3l-9.3 -9.3zM919.7 360.1l9.3 9.3l-9.3 9.3l-9.3 -9.3zM944.9 356.9l9.3 9.3l-9.3 9.3l-9.3 -9.3zM949.6 320.7l9.3 9.3l-9.3 9.3l-9.3 -9.3zM940.2 314.4l9.3 9.3l-9.3 9.3l-9.3 -9.3zM929.2 320.7l9.3 9.3l-9.3 9.3l-9.3 -9.3zM919.7 330.1l9.3 9.3l-9.3 9.3l-9.3 -9.3zM924.4 344.3l9.3 9.3l-9.3 9.3l-9.3 -9.3zM913.4 341.2l9.3 9.3l-9.3 9.3l-9.3 -9.3zM907.1 355.3l9.3 9.3l-9.3 9.3l-9.3 -9.3zM896.1 360.1l9.3 9.3l-9.3 9.3l-9.3 -9.3zM891.4 350.6l9.3 9.3l-9.3 9.3l-9.3 -9.3zM881.9 344.3l9.3 9.3l-9.3 9.3l-9.3 -9.3zM864.6 350.6l9.3 9.3l-9.3 9.3l-9.3 -9.3zM856.7 344.3l9.3 9.3l-9.3 9.3l-9.3 -9.3zM859.9 333.3l9.3 9.3l-9.3 9.3l-9.3 -9.3zM878.8 323.8l9.3 9.3l-9.3 9.3l-9.3 -9.3zM885.1 314.4l9.3 9.3l-9.3 9.3l-9.3 -9.3zM870.9 320.7l9.3 9.3l-9.3 9.3l-9.3 -9.3zM839.4 332.5l9.3 9.3l-9.3 9.3l-9.3 -9.3zM825.2 327.0l9.3 9.3l-9.3 9.3l-9.3 -9.3zM853.6 317.6l9.3 9.3l-9.3 9.3l-9.3 -9.3zM861.5 308.9l9.3 9.3l-9.3 9.3l-9.3 -9.3zM844.1 308.9l9.3 9.3l-9.3 9.3l-9.3 -9.3zM828.4 310.5l9.3 9.3l-9.3 9.3l-9.3 -9.3zM818.9 316.0l9.3 9.3l-9.3 9.3l-9.3 -9.3zM800.0 327.0l9.3 9.3l-9.3 9.3l-9.3 -9.3zM800.8 338.0l9.3 9.3l-9.3 9.3l-9.3 -9.3zM789.0 336.4l9.3 9.3l-9.3 9.3l-9.3 -9.3zM779.6 330.1l9.3 9.3l-9.3 9.3l-9.3 -9.3zM796.9 319.1l9.3 9.3l-9.3 9.3l-9.3 -9.3zM789.0 314.4l9.3 9.3l-9.3 9.3l-9.3 -9.3zM781.9 307.3l9.3 9.3l-9.3 9.3l-9.3 -9.3zM746.5 323.8l9.3 9.3l-9.3 9.3l-9.3 -9.3zM751.2 316.0l9.3 9.3l-9.3 9.3l-9.3 -9.3zM738.6 316.8l9.3 9.3l-9.3 9.3l-9.3 -9.3zM748.9 306.5l9.3 9.3l-9.3 9.3l-9.3 -9.3zM744.9 297.9l9.3 9.3l-9.3 9.3l-9.3 -9.3zM729.2 301.8l9.3 9.3l-9.3 9.3l-9.3 -9.3zM932.3 300.2l9.3 9.3l-9.3 9.3l-9.3 -9.3zM948.1 282.9l9.3 9.3l-9.3 9.3l-9.3 -9.3zM932.3 286.1l9.3 9.3l-9.3 9.3l-9.3 -9.3zM914.2 286.1l9.3 9.3l-9.3 9.3l-9.3 -9.3zM870.9 292.4l9.3 9.3l-9.3 9.3l-9.3 -9.3zM853.6 293.9l9.3 9.3l-9.3 9.3l-9.3 -9.3zM842.6 286.8l9.3 9.3l-9.3 9.3l-9.3 -9.3zM788.2 282.9l9.3 9.3l-9.3 9.3l-9.3 -9.3zM752.8 282.9l9.3 9.3l-9.3 9.3l-9.3 -9.3zM757.5 276.6l9.3 9.3l-9.3 9.3l-9.3 -9.3zM754.4 268.7l9.3 9.3l-9.3 9.3l-9.3 -9.3zM941.3 270.3l9.3 9.3l-9.3 9.3l-9.3 -9.3zM918.1 265.6l9.3 9.3l-9.3 9.3l-9.3 -9.3zM811.9 270.3l9.3 9.3l-9.3 9.3l-9.3 -9.3zM839.4 267.2l9.3 9.3l-9.3 9.3l-9.3 -9.3zM851.2 260.1l9.3 9.3l-9.3 9.3l-9.3 -9.3zM756.3 260.1l9.3 9.3l-9.3 9.3l-9.3 -9.3zM787.1 255.8l9.3 9.3l-9.3 9.3l-9.3 -9.3zM909.0 242.0l9.3 9.3l-9.3 9.3l-9.3 -9.3zM842.1 232.2l9.3 9.3l-9.3 9.3l-9.3 -9.3zM789.3 234.4l9.3 9.3l-9.3 9.3l-9.3 -9.3zM738.6 245.1l9.3 9.3l-9.3 9.3l-9.3 -9.3zM742.6 233.3l9.3 9.3l-9.3 9.3l-9.3 -9.3zM730.7 223.8l9.3 9.3l-9.3 9.3l-9.3 -9.3zM733.9 212.8l9.3 9.3l-9.3 9.3l-9.3 -9.3zM726.8 208.9l9.3 9.3l-9.3 9.3l-9.3 -9.3zM937.8 175.8l9.3 9.3l-9.3 9.3l-9.3 -9.3zM741.3 178.2l9.3 9.3l-9.3 9.3l-9.3 -9.3zM776.4 156.6l9.3 9.3l-9.3 9.3l-9.3 -9.3zM870.1 133.0l9.3 9.3l-9.3 9.3l-9.3 -9.3zM719.7 275.0l9.3 9.3l-9.3 9.3l-9.3 -9.3zM724.4 265.6l9.3 9.3l-9.3 9.3l-9.3 -9.3zM785.9 339.6l9.3 9.3l-9.3 9.3l-9.3 -9.3zM948.1 369.5l9.3 9.3l-9.3 9.3l-9.3 -9.3zM935.5 363.2l9.3 9.3l-9.3 9.3l-9.3 -9.3zM911.9 363.2l9.3 9.3l-9.3 9.3l-9.3 -9.3zM924.4 353.8l9.3 9.3l-9.3 9.3l-9.3 -9.3zM916.6 350.6l9.3 9.3l-9.3 9.3l-9.3 -9.3zM927.6 333.3l9.3 9.3l-9.3 9.3l-9.3 -9.3zM583.9 393.5l9.3 9.3l-9.3 9.3l-9.3 -9.3zM708.3 386.8l9.3 9.3l-9.3 9.3l-9.3 -9.3zM710.2 372.7l9.3 9.3l-9.3 9.3l-9.3 -9.3zM500.7 361.6l9.3 9.3l-9.3 9.3l-9.3 -9.3zM508.6 372.7l9.3 9.3l-9.3 9.3l-9.3 -9.3zM525.2 372.7l9.3 9.3l-9.3 9.3l-9.3 -9.3zM609.4 375.0l9.3 9.3l-9.3 9.3l-9.3 -9.3zM556.7 368.7l9.3 9.3l-9.3 9.3l-9.3 -9.3zM661.4 369.5l9.3 9.3l-9.3 9.3l-9.3 -9.3zM640.9 364.0l9.3 9.3l-9.3 9.3l-9.3 -9.3zM593.7 350.6l9.3 9.3l-9.3 9.3l-9.3 -9.3zM600.0 358.5l9.3 9.3l-9.3 9.3l-9.3 -9.3zM588.9 360.1l9.3 9.3l-9.3 9.3l-9.3 -9.3zM581.1 353.8l9.3 9.3l-9.3 9.3l-9.3 -9.3zM588.9 341.2l9.3 9.3l-9.3 9.3l-9.3 -9.3zM601.5 338.0l9.3 9.3l-9.3 9.3l-9.3 -9.3zM595.2 331.7l9.3 9.3l-9.3 9.3l-9.3 -9.3zM584.2 330.1l9.3 9.3l-9.3 9.3l-9.3 -9.3zM574.8 331.7l9.3 9.3l-9.3 9.3l-9.3 -9.3zM560.6 352.2l9.3 9.3l-9.3 9.3l-9.3 -9.3zM555.9 347.5l9.3 9.3l-9.3 9.3l-9.3 -9.3zM563.7 328.6l9.3 9.3l-9.3 9.3l-9.3 -9.3zM555.9 322.3l9.3 9.3l-9.3 9.3l-9.3 -9.3zM538.5 341.2l9.3 9.3l-9.3 9.3l-9.3 -9.3zM548.0 336.4l9.3 9.3l-9.3 9.3l-9.3 -9.3zM540.1 325.4l9.3 9.3l-9.3 9.3l-9.3 -9.3zM532.2 331.7l9.3 9.3l-9.3 9.3l-9.3 -9.3zM529.9 350.6l9.3 9.3l-9.3 9.3l-9.3 -9.3zM516.5 347.5l9.3 9.3l-9.3 9.3l-9.3 -9.3zM505.5 341.2l9.3 9.3l-9.3 9.3l-9.3 -9.3zM521.2 320.7l9.3 9.3l-9.3 9.3l-9.3 -9.3zM511.8 325.4l9.3 9.3l-9.3 9.3l-9.3 -9.3zM500.7 331.7l9.3 9.3l-9.3 9.3l-9.3 -9.3zM707.0 354.1l9.3 9.3l-9.3 9.3l-9.3 -9.3zM662.2 353.8l9.3 9.3l-9.3 9.3l-9.3 -9.3zM682.6 346.7l9.3 9.3l-9.3 9.3l-9.3 -9.3zM675.6 341.2l9.3 9.3l-9.3 9.3l-9.3 -9.3zM681.9 325.4l9.3 9.3l-9.3 9.3l-9.3 -9.3zM674.0 327.0l9.3 9.3l-9.3 9.3l-9.3 -9.3zM663.0 330.9l9.3 9.3l-9.3 9.3l-9.3 -9.3zM620.4 341.2l9.3 9.3l-9.3 9.3l-9.3 -9.3zM633.0 344.3l9.3 9.3l-9.3 9.3l-9.3 -9.3zM642.5 338.0l9.3 9.3l-9.3 9.3l-9.3 -9.3zM647.2 328.6l9.3 9.3l-9.3 9.3l-9.3 -9.3zM636.2 325.4l9.3 9.3l-9.3 9.3l-9.3 -9.3zM716.5 326.2l9.3 9.3l-9.3 9.3l-9.3 -9.3zM706.3 317.6l9.3 9.3l-9.3 9.3l-9.3 -9.3zM611.0 323.1l9.3 9.3l-9.3 9.3l-9.3 -9.3zM600.0 318.3l9.3 9.3l-9.3 9.3l-9.3 -9.3zM548.0 309.7l9.3 9.3l-9.3 9.3l-9.3 -9.3zM540.1 303.4l9.3 9.3l-9.3 9.3l-9.3 -9.3zM529.1 306.5l9.3 9.3l-9.3 9.3l-9.3 -9.3zM519.6 309.7l9.3 9.3l-9.3 9.3l-9.3 -9.3zM573.2 312.8l9.3 9.3l-9.3 9.3l-9.3 -9.3zM566.9 306.5l9.3 9.3l-9.3 9.3l-9.3 -9.3zM562.2 300.2l9.3 9.3l-9.3 9.3l-9.3 -9.3zM605.0 297.1l9.3 9.3l-9.3 9.3l-9.3 -9.3zM497.6 301.8l9.3 9.3l-9.3 9.3l-9.3 -9.3zM544.8 291.6l9.3 9.3l-9.3 9.3l-9.3 -9.3zM535.4 291.6l9.3 9.3l-9.3 9.3l-9.3 -9.3zM530.7 283.7l9.3 9.3l-9.3 9.3l-9.3 -9.3zM518.9 283.7l9.3 9.3l-9.3 9.3l-9.3 -9.3zM684.2 305.0l9.3 9.3l-9.3 9.3l-9.3 -9.3zM688.1 295.5l9.3 9.3l-9.3 9.3l-9.3 -9.3zM680.3 298.7l9.3 9.3l-9.3 9.3l-9.3 -9.3zM711.8 296.3l9.3 9.3l-9.3 9.3l-9.3 -9.3zM721.2 270.3l9.3 9.3l-9.3 9.3l-9.3 -9.3zM688.1 287.6l9.3 9.3l-9.3 9.3l-9.3 -9.3zM683.4 279.8l9.3 9.3l-9.3 9.3l-9.3 -9.3zM696.0 262.4l9.3 9.3l-9.3 9.3l-9.3 -9.3zM686.6 267.2l9.3 9.3l-9.3 9.3l-9.3 -9.3zM657.4 277.4l9.3 9.3l-9.3 9.3l-9.3 -9.3zM655.9 265.6l9.3 9.3l-9.3 9.3l-9.3 -9.3zM500.7 269.5l9.3 9.3l-9.3 9.3l-9.3 -9.3zM607.8 272.7l9.3 9.3l-9.3 9.3l-9.3 -9.3zM622.0 265.6l9.3 9.3l-9.3 9.3l-9.3 -9.3zM611.0 265.6l9.3 9.3l-9.3 9.3l-9.3 -9.3zM724.4 259.3l9.3 9.3l-9.3 9.3l-9.3 -9.3zM721.2 248.3l9.3 9.3l-9.3 9.3l-9.3 -9.3zM549.6 262.9l9.3 9.3l-9.3 9.3l-9.3 -9.3zM598.4 259.3l9.3 9.3l-9.3 9.3l-9.3 -9.3zM593.7 257.7l9.3 9.3l-9.3 9.3l-9.3 -9.3zM579.5 256.9l9.3 9.3l-9.3 9.3l-9.3 -9.3zM574.8 256.1l9.3 9.3l-9.3 9.3l-9.3 -9.3zM533.3 253.3l9.3 9.3l-9.3 9.3l-9.3 -9.3zM502.8 248.7l9.3 9.3l-9.3 9.3l-9.3 -9.3zM651.9 254.6l9.3 9.3l-9.3 9.3l-9.3 -9.3zM669.3 251.4l9.3 9.3l-9.3 9.3l-9.3 -9.3zM678.7 243.5l9.3 9.3l-9.3 9.3l-9.3 -9.3zM666.1 245.1l9.3 9.3l-9.3 9.3l-9.3 -9.3zM654.3 245.1l9.3 9.3l-9.3 9.3l-9.3 -9.3zM674.0 234.9l9.3 9.3l-9.3 9.3l-9.3 -9.3zM659.8 235.7l9.3 9.3l-9.3 9.3l-9.3 -9.3zM648.8 233.3l9.3 9.3l-9.3 9.3l-9.3 -9.3zM607.5 240.7l9.3 9.3l-9.3 9.3l-9.3 -9.3zM593.2 231.3l9.3 9.3l-9.3 9.3l-9.3 -9.3zM570.0 236.4l9.3 9.3l-9.3 9.3l-9.3 -9.3zM562.2 232.2l9.3 9.3l-9.3 9.3l-9.3 -9.3zM540.1 233.8l9.3 9.3l-9.3 9.3l-9.3 -9.3zM633.0 230.1l9.3 9.3l-9.3 9.3l-9.3 -9.3zM622.8 218.3l9.3 9.3l-9.3 9.3l-9.3 -9.3zM700.7 226.2l9.3 9.3l-9.3 9.3l-9.3 -9.3zM692.9 219.9l9.3 9.3l-9.3 9.3l-9.3 -9.3zM703.9 216.8l9.3 9.3l-9.3 9.3l-9.3 -9.3zM696.8 213.6l9.3 9.3l-9.3 9.3l-9.3 -9.3zM673.2 208.1l9.3 9.3l-9.3 9.3l-9.3 -9.3zM565.3 214.9l9.3 9.3l-9.3 9.3l-9.3 -9.3zM546.4 211.7l9.3 9.3l-9.3 9.3l-9.3 -9.3zM580.3 206.2l9.3 9.3l-9.3 9.3l-9.3 -9.3zM704.7 197.9l9.3 9.3l-9.3 9.3l-9.3 -9.3zM617.0 199.0l9.3 9.3l-9.3 9.3l-9.3 -9.3zM653.2 193.5l9.3 9.3l-9.3 9.3l-9.3 -9.3zM614.1 179.8l9.3 9.3l-9.3 9.3l-9.3 -9.3zM624.4 169.5l9.3 9.3l-9.3 9.3l-9.3 -9.3zM614.9 166.4l9.3 9.3l-9.3 9.3l-9.3 -9.3zM522.8 176.9l9.3 9.3l-9.3 9.3l-9.3 -9.3zM701.1 156.6l9.3 9.3l-9.3 9.3l-9.3 -9.3zM715.2 139.9l9.3 9.3l-9.3 9.3l-9.3 -9.3zM489.7 361.6l9.3 9.3l-9.3 9.3l-9.3 -9.3zM494.4 344.3l9.3 9.3l-9.3 9.3l-9.3 -9.3zM491.3 328.6l9.3 9.3l-9.3 9.3l-9.3 -9.3zM639.3 349.0l9.3 9.3l-9.3 9.3l-9.3 -9.3zM626.7 349.0l9.3 9.3l-9.3 9.3l-9.3 -9.3zM648.8 341.2l9.3 9.3l-9.3 9.3l-9.3 -9.3zM634.6 336.4l9.3 9.3l-9.3 9.3l-9.3 -9.3zM626.7 334.9l9.3 9.3l-9.3 9.3l-9.3 -9.3zM465.2 423.4l9.3 9.3l-9.3 9.3l-9.3 -9.3zM397.2 410.5l9.3 9.3l-9.3 9.3l-9.3 -9.3zM345.6 403.4l9.3 9.3l-9.3 9.3l-9.3 -9.3zM305.7 389.2l9.3 9.3l-9.3 9.3l-9.3 -9.3zM273.9 385.3l9.3 9.3l-9.3 9.3l-9.3 -9.3zM488.1 372.7l9.3 9.3l-9.3 9.3l-9.3 -9.3zM456.6 369.5l9.3 9.3l-9.3 9.3l-9.3 -9.3zM464.4 372.7l9.3 9.3l-9.3 9.3l-9.3 -9.3zM472.3 367.9l9.3 9.3l-9.3 9.3l-9.3 -9.3zM470.7 358.5l9.3 9.3l-9.3 9.3l-9.3 -9.3zM458.9 356.9l9.3 9.3l-9.3 9.3l-9.3 -9.3zM450.3 364.8l9.3 9.3l-9.3 9.3l-9.3 -9.3zM439.3 394.7l9.3 9.3l-9.3 9.3l-9.3 -9.3zM440.0 385.3l9.3 9.3l-9.3 9.3l-9.3 -9.3zM430.6 379.0l9.3 9.3l-9.3 9.3l-9.3 -9.3zM433.0 372.7l9.3 9.3l-9.3 9.3l-9.3 -9.3zM429.0 363.2l9.3 9.3l-9.3 9.3l-9.3 -9.3zM403.0 366.4l9.3 9.3l-9.3 9.3l-9.3 -9.3zM401.5 356.9l9.3 9.3l-9.3 9.3l-9.3 -9.3zM410.9 349.0l9.3 9.3l-9.3 9.3l-9.3 -9.3zM488.1 349.0l9.3 9.3l-9.3 9.3l-9.3 -9.3zM473.9 333.3l9.3 9.3l-9.3 9.3l-9.3 -9.3zM464.4 327.0l9.3 9.3l-9.3 9.3l-9.3 -9.3zM453.4 333.3l9.3 9.3l-9.3 9.3l-9.3 -9.3zM442.4 338.0l9.3 9.3l-9.3 9.3l-9.3 -9.3zM448.7 322.3l9.3 9.3l-9.3 9.3l-9.3 -9.3zM436.1 325.4l9.3 9.3l-9.3 9.3l-9.3 -9.3zM426.7 323.8l9.3 9.3l-9.3 9.3l-9.3 -9.3zM415.6 327.0l9.3 9.3l-9.3 9.3l-9.3 -9.3zM406.2 319.1l9.3 9.3l-9.3 9.3l-9.3 -9.3zM387.3 352.2l9.3 9.3l-9.3 9.3l-9.3 -9.3zM388.9 336.4l9.3 9.3l-9.3 9.3l-9.3 -9.3zM396.7 328.6l9.3 9.3l-9.3 9.3l-9.3 -9.3zM387.3 322.3l9.3 9.3l-9.3 9.3l-9.3 -9.3zM344.0 376.6l9.3 9.3l-9.3 9.3l-9.3 -9.3zM349.5 371.1l9.3 9.3l-9.3 9.3l-9.3 -9.3zM377.8 369.5l9.3 9.3l-9.3 9.3l-9.3 -9.3zM366.8 367.9l9.3 9.3l-9.3 9.3l-9.3 -9.3zM377.8 363.2l9.3 9.3l-9.3 9.3l-9.3 -9.3zM370.0 356.9l9.3 9.3l-9.3 9.3l-9.3 -9.3zM374.7 349.0l9.3 9.3l-9.3 9.3l-9.3 -9.3zM368.4 341.2l9.3 9.3l-9.3 9.3l-9.3 -9.3zM373.9 330.1l9.3 9.3l-9.3 9.3l-9.3 -9.3zM352.6 341.2l9.3 9.3l-9.3 9.3l-9.3 -9.3zM354.2 333.3l9.3 9.3l-9.3 9.3l-9.3 -9.3zM341.6 336.4l9.3 9.3l-9.3 9.3l-9.3 -9.3zM335.3 353.8l9.3 9.3l-9.3 9.3l-9.3 -9.3zM330.6 345.9l9.3 9.3l-9.3 9.3l-9.3 -9.3zM321.1 341.2l9.3 9.3l-9.3 9.3l-9.3 -9.3zM307.0 374.2l9.3 9.3l-9.3 9.3l-9.3 -9.3zM314.8 366.4l9.3 9.3l-9.3 9.3l-9.3 -9.3zM311.7 360.1l9.3 9.3l-9.3 9.3l-9.3 -9.3zM309.3 349.0l9.3 9.3l-9.3 9.3l-9.3 -9.3zM300.7 340.4l9.3 9.3l-9.3 9.3l-9.3 -9.3zM291.2 338.0l9.3 9.3l-9.3 9.3l-9.3 -9.3zM268.4 356.9l9.3 9.3l-9.3 9.3l-9.3 -9.3zM273.9 347.5l9.3 9.3l-9.3 9.3l-9.3 -9.3zM267.6 340.4l9.3 9.3l-9.3 9.3l-9.3 -9.3zM278.6 333.3l9.3 9.3l-9.3 9.3l-9.3 -9.3zM319.6 324.6l9.3 9.3l-9.3 9.3l-9.3 -9.3zM308.5 319.9l9.3 9.3l-9.3 9.3l-9.3 -9.3zM297.5 316.8l9.3 9.3l-9.3 9.3l-9.3 -9.3zM274.7 324.6l9.3 9.3l-9.3 9.3l-9.3 -9.3zM475.5 317.6l9.3 9.3l-9.3 9.3l-9.3 -9.3zM390.4 314.4l9.3 9.3l-9.3 9.3l-9.3 -9.3zM447.1 314.4l9.3 9.3l-9.3 9.3l-9.3 -9.3zM436.1 312.0l9.3 9.3l-9.3 9.3l-9.3 -9.3zM423.5 305.0l9.3 9.3l-9.3 9.3l-9.3 -9.3zM411.7 301.8l9.3 9.3l-9.3 9.3l-9.3 -9.3zM491.2 293.9l9.3 9.3l-9.3 9.3l-9.3 -9.3zM478.6 300.2l9.3 9.3l-9.3 9.3l-9.3 -9.3zM480.2 287.6l9.3 9.3l-9.3 9.3l-9.3 -9.3zM456.6 299.4l9.3 9.3l-9.3 9.3l-9.3 -9.3zM455.0 287.6l9.3 9.3l-9.3 9.3l-9.3 -9.3zM392.0 295.5l9.3 9.3l-9.3 9.3l-9.3 -9.3zM382.6 286.1l9.3 9.3l-9.3 9.3l-9.3 -9.3zM362.1 306.5l9.3 9.3l-9.3 9.3l-9.3 -9.3zM360.5 297.9l9.3 9.3l-9.3 9.3l-9.3 -9.3zM347.9 300.2l9.3 9.3l-9.3 9.3l-9.3 -9.3zM330.1 293.5l9.3 9.3l-9.3 9.3l-9.3 -9.3zM280.2 301.8l9.3 9.3l-9.3 9.3l-9.3 -9.3zM288.9 297.1l9.3 9.3l-9.3 9.3l-9.3 -9.3zM284.6 286.8l9.3 9.3l-9.3 9.3l-9.3 -9.3zM491.2 276.6l9.3 9.3l-9.3 9.3l-9.3 -9.3zM480.2 274.2l9.3 9.3l-9.3 9.3l-9.3 -9.3zM461.3 277.4l9.3 9.3l-9.3 9.3l-9.3 -9.3zM422.7 284.5l9.3 9.3l-9.3 9.3l-9.3 -9.3zM432.2 277.1l9.3 9.3l-9.3 9.3l-9.3 -9.3zM413.3 273.1l9.3 9.3l-9.3 9.3l-9.3 -9.3zM364.4 280.5l9.3 9.3l-9.3 9.3l-9.3 -9.3zM350.3 279.0l9.3 9.3l-9.3 9.3l-9.3 -9.3zM331.7 281.0l9.3 9.3l-9.3 9.3l-9.3 -9.3zM384.1 273.1l9.3 9.3l-9.3 9.3l-9.3 -9.3zM320.4 269.5l9.3 9.3l-9.3 9.3l-9.3 -9.3zM300.7 260.1l9.3 9.3l-9.3 9.3l-9.3 -9.3zM293.6 264.0l9.3 9.3l-9.3 9.3l-9.3 -9.3zM382.2 253.0l9.3 9.3l-9.3 9.3l-9.3 -9.3zM467.6 248.7l9.3 9.3l-9.3 9.3l-9.3 -9.3zM421.9 239.6l9.3 9.3l-9.3 9.3l-9.3 -9.3zM302.2 236.4l9.3 9.3l-9.3 9.3l-9.3 -9.3zM296.7 241.2l9.3 9.3l-9.3 9.3l-9.3 -9.3zM277.5 242.7l9.3 9.3l-9.3 9.3l-9.3 -9.3zM329.0 247.5l9.3 9.3l-9.3 9.3l-9.3 -9.3zM326.7 237.2l9.3 9.3l-9.3 9.3l-9.3 -9.3zM321.1 229.4l9.3 9.3l-9.3 9.3l-9.3 -9.3zM323.5 219.1l9.3 9.3l-9.3 9.3l-9.3 -9.3zM314.1 219.6l9.3 9.3l-9.3 9.3l-9.3 -9.3zM352.6 221.0l9.3 9.3l-9.3 9.3l-9.3 -9.3zM287.0 219.1l9.3 9.3l-9.3 9.3l-9.3 -9.3zM369.2 205.0l9.3 9.3l-9.3 9.3l-9.3 -9.3zM285.7 207.0l9.3 9.3l-9.3 9.3l-9.3 -9.3zM313.0 195.7l9.3 9.3l-9.3 9.3l-9.3 -9.3zM290.0 181.3l9.3 9.3l-9.3 9.3l-9.3 -9.3zM283.3 180.2l9.3 9.3l-9.3 9.3l-9.3 -9.3zM485.2 164.5l9.3 9.3l-9.3 9.3l-9.3 -9.3zM419.6 170.3l9.3 9.3l-9.3 9.3l-9.3 -9.3zM412.5 356.9l9.3 9.3l-9.3 9.3l-9.3 -9.3zM340.0 347.5l9.3 9.3l-9.3 9.3l-9.3 -9.3zM325.9 353.8l9.3 9.3l-9.3 9.3l-9.3 -9.3zM466.0 338.0l9.3 9.3l-9.3 9.3l-9.3 -9.3zM451.9 319.1l9.3 9.3l-9.3 9.3l-9.3 -9.3zM433.0 333.3l9.3 9.3l-9.3 9.3l-9.3 -9.3zM444.0 328.6l9.3 9.3l-9.3 9.3l-9.3 -9.3zM426.7 314.4l9.3 9.3l-9.3 9.3l-9.3 -9.3zM418.8 316.0l9.3 9.3l-9.3 9.3l-9.3 -9.3zM409.3 311.3l9.3 9.3l-9.3 9.3l-9.3 -9.3zM399.9 317.6l9.3 9.3l-9.3 9.3l-9.3 -9.3z" fill="#4a7ebb"/>
<line x1="261.9" y1="1069.4" x2="1623.1" y2="1069.4" stroke="#d9d9d9" stroke-width="1.9"/>
<line x1="261.9" y1="1176.6" x2="1623.1" y2="1176.6" stroke="#d9d9d9" stroke-width="1.9"/>
<line x1="261.9" y1="1283.7" x2="1623.1" y2="1283.7" stroke="#d9d9d9" stroke-width="1.9"/>
<line x1="261.9" y1="1390.9" x2="1623.1" y2="1390.9" stroke="#d9d9d9" stroke-width="1.9"/>
<line x1="397.2" y1="962.3" x2="397.2" y2="1498.0" stroke="#f0f0f0" stroke-width="1.9"/>
<line x1="533.8" y1="962.3" x2="533.8" y2="1498.0" stroke="#d9d9d9" stroke-width="1.9"/>
<line x1="670.4" y1="962.3" x2="670.4" y2="1498.0" stroke="#f0f0f0" stroke-width="1.9"/>
<line x1="806.1" y1="962.3" x2="806.1" y2="1498.0" stroke="#d9d9d9" stroke-width="1.9"/>
<line x1="942.1" y1="962.3" x2="942.1" y2="1498.0" stroke="#f0f0f0" stroke-width="1.9"/>
<line x1="1078.9" y1="962.3" x2="1078.9" y2="1498.0" stroke="#d9d9d9" stroke-width="1.9"/>
<line x1="1214.8" y1="962.3" x2="1214.8" y2="1498.0" stroke="#f0f0f0" stroke-width="1.9"/>
<line x1="1350.6" y1="962.3" x2="1350.6" y2="1498.0" stroke="#d9d9d9" stroke-width="1.9"/>
<line x1="1487.4" y1="962.3" x2="1487.4" y2="1498.0" stroke="#f0f0f0" stroke-width="1.9"/>
<line x1="261.9" y1="962.3" x2="1623.1" y2="962.3" stroke="#d9d9d9" stroke-width="1.9"/>
<line x1="1623.1" y1="962.3" x2="1623.1" y2="1498.0" stroke="#d9d9d9" stroke-width="1.9"/>
<line x1="261.9" y1="961.3" x2="261.9" y2="1499.0" stroke="#c3c3c3" stroke-width="1.9"/>
<line x1="260.9" y1="1498.0" x2="1624.1" y2="1498.0" stroke="#c3c3c3" stroke-width="1.9"/>
<text transform="translate(205.4 984.0) scale(1.005 1.035)" text-anchor="end">1.0</text>
<text transform="translate(205.4 1091.1) scale(1.005 1.035)" text-anchor="end">0.8</text>
<text transform="translate(205.4 1198.3) scale(1.005 1.035)" text-anchor="end">0.6</text>
<text transform="translate(205.4 1305.4) scale(1.005 1.035)" text-anchor="end">0.4</text>
<text transform="translate(205.4 1412.6) scale(1.005 1.035)" text-anchor="end">0.2</text>
<text transform="translate(205.4 1519.7) scale(1.005 1.035)" text-anchor="end">0.0</text>
<text transform="translate(261.9 1598.2) scale(0.985 1.035)" text-anchor="middle">0%</text>
<text transform="translate(533.8 1598.2) scale(0.985 1.035)" text-anchor="middle">20%</text>
<text transform="translate(806.1 1598.2) scale(0.985 1.035)" text-anchor="middle">40%</text>
<text transform="translate(1078.9 1598.2) scale(0.985 1.035)" text-anchor="middle">60%</text>
<text transform="translate(1350.6 1598.2) scale(0.985 1.035)" text-anchor="middle">80%</text>
<text transform="translate(1623.1 1598.2) scale(0.985 1.035)" text-anchor="middle">100%</text>
<text transform="translate(927.8 1707.9) scale(1.000 0.998)" text-anchor="middle">Percentage forest samples (Landsat)</text>
<text transform="translate(926.0 1785.2) scale(1.000 1.004)" text-anchor="middle">(b)</text>
<text transform="translate(71.2 1273.2) rotate(-90) scale(1 1.037)" text-anchor="middle"><tspan class="i">F</tspan>-score</text>
<path d="M1362.3 1241.8l11.0 11.0l-11.0 11.0l-11.0 -11.0zM1590.9 1212.5l11.0 11.0l-11.0 11.0l-11.0 -11.0zM1539.7 1209.8l11.0 11.0l-11.0 11.0l-11.0 -11.0zM1528.6 1205.2l11.0 11.0l-11.0 11.0l-11.0 -11.0zM1623.1 1183.6l11.0 11.0l-11.0 11.0l-11.0 -11.0zM1613.2 1182.9l11.0 11.0l-11.0 11.0l-11.0 -11.0zM1598.8 1188.8l11.0 11.0l-11.0 11.0l-11.0 -11.0zM1626.4 1139.0l11.0 11.0l-11.0 11.0l-11.0 -11.0zM1619.8 1147.5l11.0 11.0l-11.0 11.0l-11.0 -11.0zM1606.7 1147.5l11.0 11.0l-11.0 11.0l-11.0 -11.0zM1571.9 1147.5l11.0 11.0l-11.0 11.0l-11.0 -11.0zM1614.5 1112.7l11.0 11.0l-11.0 11.0l-11.0 -11.0zM1623.7 1099.6l11.0 11.0l-11.0 11.0l-11.0 -11.0zM1623.7 1073.4l11.0 11.0l-11.0 11.0l-11.0 -11.0zM1623.7 1060.2l11.0 11.0l-11.0 11.0l-11.0 -11.0zM1604.0 1103.5l11.0 11.0l-11.0 11.0l-11.0 -11.0zM1605.4 1093.0l11.0 11.0l-11.0 11.0l-11.0 -11.0zM1605.4 1068.1l11.0 11.0l-11.0 11.0l-11.0 -11.0zM1584.4 1093.0l11.0 11.0l-11.0 11.0l-11.0 -11.0zM1556.8 1119.9l11.0 11.0l-11.0 11.0l-11.0 -11.0zM1558.1 1098.3l11.0 11.0l-11.0 11.0l-11.0 -11.0zM1558.1 1084.5l11.0 11.0l-11.0 11.0l-11.0 -11.0zM1571.2 1074.7l11.0 11.0l-11.0 11.0l-11.0 -11.0zM1617.2 1053.7l11.0 11.0l-11.0 11.0l-11.0 -11.0zM1594.9 1051.0l11.0 11.0l-11.0 11.0l-11.0 -11.0zM1605.4 1047.1l11.0 11.0l-11.0 11.0l-11.0 -11.0zM1579.1 1053.7l11.0 11.0l-11.0 11.0l-11.0 -11.0zM1588.3 1041.9l11.0 11.0l-11.0 11.0l-11.0 -11.0zM1512.6 1156.7l11.0 11.0l-11.0 11.0l-11.0 -11.0zM1510.6 1140.5l11.0 11.0l-11.0 11.0l-11.0 -11.0zM1512.6 1119.9l11.0 11.0l-11.0 11.0l-11.0 -11.0zM1476.1 1105.5l11.0 11.0l-11.0 11.0l-11.0 -11.0zM1528.6 1093.7l11.0 11.0l-11.0 11.0l-11.0 -11.0zM1508.2 1077.3l11.0 11.0l-11.0 11.0l-11.0 -11.0zM1495.1 1083.9l11.0 11.0l-11.0 11.0l-11.0 -11.0zM1476.1 1082.5l11.0 11.0l-11.0 11.0l-11.0 -11.0zM1531.9 1068.1l11.0 11.0l-11.0 11.0l-11.0 -11.0zM1501.0 1064.8l11.0 11.0l-11.0 11.0l-11.0 -11.0zM1528.6 1045.1l11.0 11.0l-11.0 11.0l-11.0 -11.0zM1480.7 1049.7l11.0 11.0l-11.0 11.0l-11.0 -11.0zM1459.7 1043.8l11.0 11.0l-11.0 11.0l-11.0 -11.0zM1476.1 1035.3l11.0 11.0l-11.0 11.0l-11.0 -11.0zM1460.3 1032.7l11.0 11.0l-11.0 11.0l-11.0 -11.0zM1629.0 1145.5l11.0 11.0l-11.0 11.0l-11.0 -11.0zM1610.6 1145.5l11.0 11.0l-11.0 11.0l-11.0 -11.0zM1614.5 1099.6l11.0 11.0l-11.0 11.0l-11.0 -11.0zM1614.5 1060.2l11.0 11.0l-11.0 11.0l-11.0 -11.0zM1629.0 1119.3l11.0 11.0l-11.0 11.0l-11.0 -11.0zM1629.0 1106.2l11.0 11.0l-11.0 11.0l-11.0 -11.0zM1629.0 1093.0l11.0 11.0l-11.0 11.0l-11.0 -11.0zM1629.0 1079.9l11.0 11.0l-11.0 11.0l-11.0 -11.0zM1629.0 1066.8l11.0 11.0l-11.0 11.0l-11.0 -11.0zM1629.0 1053.7l11.0 11.0l-11.0 11.0l-11.0 -11.0zM1424.7 1114.4l11.0 11.0l-11.0 11.0l-11.0 -11.0zM1373.5 1103.0l11.0 11.0l-11.0 11.0l-11.0 -11.0zM1368.7 1089.1l11.0 11.0l-11.0 11.0l-11.0 -11.0zM1410.3 1072.0l11.0 11.0l-11.0 11.0l-11.0 -11.0zM1391.6 1080.1l11.0 11.0l-11.0 11.0l-11.0 -11.0zM1369.9 1065.1l11.0 11.0l-11.0 11.0l-11.0 -11.0zM1428.3 1018.1l11.0 11.0l-11.0 11.0l-11.0 -11.0zM1406.1 1035.0l11.0 11.0l-11.0 11.0l-11.0 -11.0zM1368.7 1043.4l11.0 11.0l-11.0 11.0l-11.0 -11.0zM1390.4 1020.5l11.0 11.0l-11.0 11.0l-11.0 -11.0zM1303.1 1113.2l11.0 11.0l-11.0 11.0l-11.0 -11.0zM1300.1 1095.8l11.0 11.0l-11.0 11.0l-11.0 -11.0zM1284.4 1086.7l11.0 11.0l-11.0 11.0l-11.0 -11.0zM1286.9 1058.4l11.0 11.0l-11.0 11.0l-11.0 -11.0zM1309.7 1061.4l11.0 11.0l-11.0 11.0l-11.0 -11.0zM1318.2 1045.8l11.0 11.0l-11.0 11.0l-11.0 -11.0zM1324.2 1031.3l11.0 11.0l-11.0 11.0l-11.0 -11.0zM1314.5 1014.5l11.0 11.0l-11.0 11.0l-11.0 -11.0zM1321.8 1001.2l11.0 11.0l-11.0 11.0l-11.0 -11.0zM1256.1 1014.8l11.0 11.0l-11.0 11.0l-11.0 -11.0zM1276.8 1071.1l11.0 11.0l-11.0 11.0l-11.0 -11.0zM1269.9 1037.8l11.0 11.0l-11.0 11.0l-11.0 -11.0zM1268.7 1132.6l11.0 11.0l-11.0 11.0l-11.0 -11.0zM1242.8 1094.0l11.0 11.0l-11.0 11.0l-11.0 -11.0zM1241.2 1065.3l11.0 11.0l-11.0 11.0l-11.0 -11.0zM1246.9 1058.4l11.0 11.0l-11.0 11.0l-11.0 -11.0zM1224.0 1017.1l11.0 11.0l-11.0 11.0l-11.0 -11.0zM1212.5 1024.0l11.0 11.0l-11.0 11.0l-11.0 -11.0zM1159.7 1005.6l11.0 11.0l-11.0 11.0l-11.0 -11.0zM1206.3 1053.8l11.0 11.0l-11.0 11.0l-11.0 -11.0zM1189.5 1046.9l11.0 11.0l-11.0 11.0l-11.0 -11.0zM1163.8 1063.0l11.0 11.0l-11.0 11.0l-11.0 -11.0zM1168.8 1040.0l11.0 11.0l-11.0 11.0l-11.0 -11.0zM1149.3 1035.5l11.0 11.0l-11.0 11.0l-11.0 -11.0zM1145.9 1018.2l11.0 11.0l-11.0 11.0l-11.0 -11.0zM1133.2 1013.6l11.0 11.0l-11.0 11.0l-11.0 -11.0zM1097.7 1014.8l11.0 11.0l-11.0 11.0l-11.0 -11.0zM1104.5 996.4l11.0 11.0l-11.0 11.0l-11.0 -11.0zM1111.4 1035.5l11.0 11.0l-11.0 11.0l-11.0 -11.0zM1095.4 1033.2l11.0 11.0l-11.0 11.0l-11.0 -11.0zM1086.2 1024.0l11.0 11.0l-11.0 11.0l-11.0 -11.0zM1067.8 1014.8l11.0 11.0l-11.0 11.0l-11.0 -11.0zM1054.0 1129.2l11.0 11.0l-11.0 11.0l-11.0 -11.0zM1033.3 1097.0l11.0 11.0l-11.0 11.0l-11.0 -11.0zM1067.1 1067.6l11.0 11.0l-11.0 11.0l-11.0 -11.0zM1046.0 1056.1l11.0 11.0l-11.0 11.0l-11.0 -11.0zM1044.8 1014.8l11.0 11.0l-11.0 11.0l-11.0 -11.0zM1031.0 1024.0l11.0 11.0l-11.0 11.0l-11.0 -11.0zM1019.6 1024.0l11.0 11.0l-11.0 11.0l-11.0 -11.0zM1005.8 1028.6l11.0 11.0l-11.0 11.0l-11.0 -11.0zM1010.4 1010.2l11.0 11.0l-11.0 11.0l-11.0 -11.0zM992.0 1079.1l11.0 11.0l-11.0 11.0l-11.0 -11.0zM1003.5 1060.7l11.0 11.0l-11.0 11.0l-11.0 -11.0zM985.1 1051.5l11.0 11.0l-11.0 11.0l-11.0 -11.0zM985.1 1040.0l11.0 11.0l-11.0 11.0l-11.0 -11.0zM941.5 1005.6l11.0 11.0l-11.0 11.0l-11.0 -11.0zM966.7 1013.6l11.0 11.0l-11.0 11.0l-11.0 -11.0zM953.7 1115.4l11.0 11.0l-11.0 11.0l-11.0 -11.0zM951.4 1083.7l11.0 11.0l-11.0 11.0l-11.0 -11.0zM955.3 1059.6l11.0 11.0l-11.0 11.0l-11.0 -11.0zM946.1 1053.8l11.0 11.0l-11.0 11.0l-11.0 -11.0zM934.6 1051.5l11.0 11.0l-11.0 11.0l-11.0 -11.0zM934.5 1030.9l11.0 11.0l-11.0 11.0l-11.0 -11.0zM923.0 1026.3l11.0 11.0l-11.0 11.0l-11.0 -11.0zM927.6 1046.9l11.0 11.0l-11.0 11.0l-11.0 -11.0zM909.2 1064.2l11.0 11.0l-11.0 11.0l-11.0 -11.0zM900.0 1061.9l11.0 11.0l-11.0 11.0l-11.0 -11.0zM867.9 1030.9l11.0 11.0l-11.0 11.0l-11.0 -11.0zM881.7 1046.9l11.0 11.0l-11.0 11.0l-11.0 -11.0zM874.8 1037.8l11.0 11.0l-11.0 11.0l-11.0 -11.0zM908.1 1105.5l11.0 11.0l-11.0 11.0l-11.0 -11.0zM875.9 1115.8l11.0 11.0l-11.0 11.0l-11.0 -11.0zM855.3 1099.8l11.0 11.0l-11.0 11.0l-11.0 -11.0zM849.5 1076.8l11.0 11.0l-11.0 11.0l-11.0 -11.0zM844.9 1067.6l11.0 11.0l-11.0 11.0l-11.0 -11.0zM838.0 1058.4l11.0 11.0l-11.0 11.0l-11.0 -11.0zM826.5 1037.8l11.0 11.0l-11.0 11.0l-11.0 -11.0zM819.7 1030.9l11.0 11.0l-11.0 11.0l-11.0 -11.0zM810.5 1024.0l11.0 11.0l-11.0 11.0l-11.0 -11.0zM648.6 1184.7l11.0 11.0l-11.0 11.0l-11.0 -11.0zM634.8 1179.0l11.0 11.0l-11.0 11.0l-11.0 -11.0zM613.0 1138.8l11.0 11.0l-11.0 11.0l-11.0 -11.0zM622.2 1150.3l11.0 11.0l-11.0 11.0l-11.0 -11.0zM599.2 1146.8l11.0 11.0l-11.0 11.0l-11.0 -11.0zM603.8 1136.5l11.0 11.0l-11.0 11.0l-11.0 -11.0zM619.9 1129.6l11.0 11.0l-11.0 11.0l-11.0 -11.0zM617.6 1118.1l11.0 11.0l-11.0 11.0l-11.0 -11.0zM655.5 1154.9l11.0 11.0l-11.0 11.0l-11.0 -11.0zM668.1 1146.8l11.0 11.0l-11.0 11.0l-11.0 -11.0zM661.2 1134.2l11.0 11.0l-11.0 11.0l-11.0 -11.0zM661.2 1114.7l11.0 11.0l-11.0 11.0l-11.0 -11.0zM675.0 1091.7l11.0 11.0l-11.0 11.0l-11.0 -11.0zM668.1 1089.4l11.0 11.0l-11.0 11.0l-11.0 -11.0zM635.9 1097.5l11.0 11.0l-11.0 11.0l-11.0 -11.0zM638.2 1088.3l11.0 11.0l-11.0 11.0l-11.0 -11.0zM609.5 1099.8l11.0 11.0l-11.0 11.0l-11.0 -11.0zM800.1 1038.9l11.0 11.0l-11.0 11.0l-11.0 -11.0zM780.6 1056.1l11.0 11.0l-11.0 11.0l-11.0 -11.0zM785.2 1072.2l11.0 11.0l-11.0 11.0l-11.0 -11.0zM771.4 1071.1l11.0 11.0l-11.0 11.0l-11.0 -11.0zM789.3 1141.1l11.0 11.0l-11.0 11.0l-11.0 -11.0zM761.1 1130.8l11.0 11.0l-11.0 11.0l-11.0 -11.0zM714.0 1132.6l11.0 11.0l-11.0 11.0l-11.0 -11.0zM746.2 1108.9l11.0 11.0l-11.0 11.0l-11.0 -11.0zM753.1 1095.2l11.0 11.0l-11.0 11.0l-11.0 -11.0zM751.9 1084.8l11.0 11.0l-11.0 11.0l-11.0 -11.0zM740.4 1086.0l11.0 11.0l-11.0 11.0l-11.0 -11.0zM711.7 1099.8l11.0 11.0l-11.0 11.0l-11.0 -11.0zM732.4 1058.4l11.0 11.0l-11.0 11.0l-11.0 -11.0zM725.5 1074.5l11.0 11.0l-11.0 11.0l-11.0 -11.0zM702.5 1073.3l11.0 11.0l-11.0 11.0l-11.0 -11.0zM688.8 1074.5l11.0 11.0l-11.0 11.0l-11.0 -11.0zM693.3 1063.0l11.0 11.0l-11.0 11.0l-11.0 -11.0zM623.3 1058.4l11.0 11.0l-11.0 11.0l-11.0 -11.0zM702.5 1044.6l11.0 11.0l-11.0 11.0l-11.0 -11.0zM722.1 1030.9l11.0 11.0l-11.0 11.0l-11.0 -11.0zM269.5 1472.9l11.0 11.0l-11.0 11.0l-11.0 -11.0zM286.7 1452.2l11.0 11.0l-11.0 11.0l-11.0 -11.0zM298.2 1405.8l11.0 11.0l-11.0 11.0l-11.0 -11.0zM350.6 1344.3l11.0 11.0l-11.0 11.0l-11.0 -11.0zM380.0 1336.3l11.0 11.0l-11.0 11.0l-11.0 -11.0zM431.4 1318.1l11.0 11.0l-11.0 11.0l-11.0 -11.0zM359.8 1308.7l11.0 11.0l-11.0 11.0l-11.0 -11.0zM599.1 1103.8l11.0 11.0l-11.0 11.0l-11.0 -11.0zM584.2 1140.6l11.0 11.0l-11.0 11.0l-11.0 -11.0zM557.7 1110.7l11.0 11.0l-11.0 11.0l-11.0 -11.0zM576.1 1085.5l11.0 11.0l-11.0 11.0l-11.0 -11.0zM568.1 1219.3l11.0 11.0l-11.0 11.0l-11.0 -11.0zM569.9 1197.3l11.0 11.0l-11.0 11.0l-11.0 -11.0zM561.2 1168.1l11.0 11.0l-11.0 11.0l-11.0 -11.0zM553.1 1145.2l11.0 11.0l-11.0 11.0l-11.0 -11.0zM548.1 1156.7l11.0 11.0l-11.0 11.0l-11.0 -11.0zM544.0 1111.9l11.0 11.0l-11.0 11.0l-11.0 -11.0zM534.8 1157.8l11.0 11.0l-11.0 11.0l-11.0 -11.0zM519.8 1129.1l11.0 11.0l-11.0 11.0l-11.0 -11.0zM508.8 1157.3l11.0 11.0l-11.0 11.0l-11.0 -11.0zM476.2 1168.1l11.0 11.0l-11.0 11.0l-11.0 -11.0zM500.3 1200.3l11.0 11.0l-11.0 11.0l-11.0 -11.0zM494.6 1194.5l11.0 11.0l-11.0 11.0l-11.0 -11.0zM513.0 1230.1l11.0 11.0l-11.0 11.0l-11.0 -11.0zM484.7 1239.3l11.0 11.0l-11.0 11.0l-11.0 -11.0zM473.9 1231.3l11.0 11.0l-11.0 11.0l-11.0 -11.0zM462.4 1234.7l11.0 11.0l-11.0 11.0l-11.0 -11.0zM456.7 1242.8l11.0 11.0l-11.0 11.0l-11.0 -11.0zM460.8 1196.8l11.0 11.0l-11.0 11.0l-11.0 -11.0zM457.8 1188.8l11.0 11.0l-11.0 11.0l-11.0 -11.0zM441.1 1234.3l11.0 11.0l-11.0 11.0l-11.0 -11.0zM443.6 1208.3l11.0 11.0l-11.0 11.0l-11.0 -11.0zM441.1 1218.7l11.0 11.0l-11.0 11.0l-11.0 -11.0zM423.4 1223.3l11.0 11.0l-11.0 11.0l-11.0 -11.0zM413.1 1190.4l11.0 11.0l-11.0 11.0l-11.0 -11.0zM398.1 1260.5l11.0 11.0l-11.0 11.0l-11.0 -11.0zM347.1 1263.7l11.0 11.0l-11.0 11.0l-11.0 -11.0z" fill="#c00000"/>
<g fill="#00b0f0">
<circle cx="1620.4" cy="1140.1" r="11.8"/>
<circle cx="1623.1" cy="1122.4" r="11.8"/>
<circle cx="1623.1" cy="1097.5" r="11.8"/>
<circle cx="1613.2" cy="1082.4" r="11.8"/>
<circle cx="1585.0" cy="1095.2" r="11.8"/>
<circle cx="1623.7" cy="1047.6" r="11.8"/>
<circle cx="1613.2" cy="992.5" r="11.8"/>
<circle cx="1588.3" cy="989.9" r="11.8"/>
<circle cx="1597.5" cy="982.0" r="11.8"/>
<circle cx="1610.6" cy="979.4" r="11.8"/>
<circle cx="1597.5" cy="1013.5" r="11.8"/>
<circle cx="1610.6" cy="1013.5" r="11.8"/>
<circle cx="1623.7" cy="1020.1" r="11.8"/>
<circle cx="1623.7" cy="1009.6" r="11.8"/>
<circle cx="1623.7" cy="997.7" r="11.8"/>
<circle cx="1623.1" cy="985.9" r="11.8"/>
<circle cx="1623.7" cy="974.1" r="11.8"/>
<circle cx="1623.7" cy="962.3" r="11.8"/>
<circle cx="1613.2" cy="963.6" r="11.8"/>
<circle cx="1602.7" cy="964.9" r="11.8"/>
<circle cx="1590.9" cy="972.8" r="11.8"/>
<circle cx="1584.4" cy="1009.6" r="11.8"/>
<circle cx="1579.1" cy="995.1" r="11.8"/>
<circle cx="1571.9" cy="1025.3" r="11.8"/>
<circle cx="1558.1" cy="1007.6" r="11.8"/>
<circle cx="1558.8" cy="969.5" r="11.8"/>
<circle cx="1539.7" cy="977.4" r="11.8"/>
<circle cx="1529.2" cy="987.2" r="11.8"/>
<circle cx="1530.6" cy="980.7" r="11.8"/>
<circle cx="1528.6" cy="969.5" r="11.8"/>
<circle cx="1501.7" cy="1026.0" r="11.8"/>
<circle cx="1508.2" cy="1013.5" r="11.8"/>
<circle cx="1510.9" cy="997.7" r="11.8"/>
<circle cx="1511.5" cy="987.2" r="11.8"/>
<circle cx="1476.7" cy="1009.6" r="11.8"/>
<circle cx="1476.7" cy="997.7" r="11.8"/>
<circle cx="1496.4" cy="973.5" r="11.8"/>
<circle cx="1480.7" cy="976.7" r="11.8"/>
<circle cx="1460.3" cy="995.1" r="11.8"/>
<circle cx="1459.7" cy="981.3" r="11.8"/>
<circle cx="1428.9" cy="1006.8" r="11.8"/>
<circle cx="1426.5" cy="989.4" r="11.8"/>
<circle cx="1430.1" cy="986.4" r="11.8"/>
<circle cx="1410.9" cy="1018.9" r="11.8"/>
<circle cx="1408.5" cy="1009.8" r="11.8"/>
<circle cx="1384.4" cy="1047.2" r="11.8"/>
<circle cx="1391.6" cy="1038.7" r="11.8"/>
<circle cx="1376.0" cy="1036.3" r="11.8"/>
<circle cx="1365.1" cy="1032.7" r="11.8"/>
<circle cx="1368.7" cy="1020.1" r="11.8"/>
<circle cx="1389.2" cy="996.0" r="11.8"/>
<circle cx="1396.4" cy="985.8" r="11.8"/>
<circle cx="1394.6" cy="974.3" r="11.8"/>
<circle cx="1371.1" cy="971.3" r="11.8"/>
<circle cx="1303.7" cy="1067.6" r="11.8"/>
<circle cx="1308.5" cy="1049.6" r="11.8"/>
<circle cx="1300.1" cy="1043.5" r="11.8"/>
<circle cx="1339.8" cy="1026.7" r="11.8"/>
<circle cx="1318.2" cy="1021.9" r="11.8"/>
<circle cx="1339.8" cy="1002.6" r="11.8"/>
<circle cx="1321.8" cy="989.4" r="11.8"/>
<circle cx="1313.9" cy="985.8" r="11.8"/>
<circle cx="1285.7" cy="1033.9" r="11.8"/>
<circle cx="1290.5" cy="991.2" r="11.8"/>
<circle cx="1279.1" cy="1009.7" r="11.8"/>
<circle cx="1269.9" cy="1038.4" r="11.8"/>
<circle cx="1269.9" cy="1005.1" r="11.8"/>
<circle cx="1272.2" cy="983.3" r="11.8"/>
<circle cx="1242.3" cy="1033.8" r="11.8"/>
<circle cx="1237.7" cy="1018.9" r="11.8"/>
<circle cx="1251.5" cy="995.9" r="11.8"/>
<circle cx="1240.0" cy="999.4" r="11.8"/>
<circle cx="1233.1" cy="993.6" r="11.8"/>
<circle cx="1221.7" cy="981.0" r="11.8"/>
<circle cx="1218.2" cy="1012.0" r="11.8"/>
<circle cx="1212.5" cy="1022.3" r="11.8"/>
<circle cx="1206.7" cy="1051.7" r="11.8"/>
<circle cx="1190.7" cy="1029.9" r="11.8"/>
<circle cx="1168.8" cy="1028.1" r="11.8"/>
<circle cx="1170.0" cy="997.1" r="11.8"/>
<circle cx="1162.0" cy="1000.5" r="11.8"/>
<circle cx="1150.5" cy="1002.8" r="11.8"/>
<circle cx="1145.2" cy="989.0" r="11.8"/>
<circle cx="1132.1" cy="992.5" r="11.8"/>
<circle cx="1112.6" cy="1039.6" r="11.8"/>
<circle cx="1113.7" cy="991.3" r="11.8"/>
<circle cx="1106.8" cy="993.6" r="11.8"/>
<circle cx="1079.3" cy="1017.7" r="11.8"/>
<circle cx="1090.8" cy="1014.3" r="11.8"/>
<circle cx="1081.6" cy="1007.4" r="11.8"/>
<circle cx="1070.1" cy="1002.8" r="11.8"/>
<circle cx="1079.3" cy="991.3" r="11.8"/>
<circle cx="1090.8" cy="986.7" r="11.8"/>
<circle cx="1099.9" cy="979.9" r="11.8"/>
<circle cx="1095.4" cy="969.5" r="11.8"/>
<circle cx="1086.2" cy="973.0" r="11.8"/>
<circle cx="1077.0" cy="975.3" r="11.8"/>
<circle cx="1067.8" cy="989.0" r="11.8"/>
<circle cx="1014.5" cy="1121.1" r="11.8"/>
<circle cx="993.2" cy="1088.5" r="11.8"/>
<circle cx="1068.5" cy="1045.3" r="11.8"/>
<circle cx="1055.2" cy="1045.3" r="11.8"/>
<circle cx="1034.0" cy="1054.5" r="11.8"/>
<circle cx="1006.9" cy="1056.3" r="11.8"/>
<circle cx="1049.4" cy="1000.5" r="11.8"/>
<circle cx="1040.2" cy="1007.4" r="11.8"/>
<circle cx="1028.8" cy="1015.5" r="11.8"/>
<circle cx="1052.9" cy="983.3" r="11.8"/>
<circle cx="1042.5" cy="986.7" r="11.8"/>
<circle cx="1028.8" cy="995.9" r="11.8"/>
<circle cx="1001.2" cy="1000.5" r="11.8"/>
<circle cx="1017.3" cy="991.3" r="11.8"/>
<circle cx="1010.4" cy="983.3" r="11.8"/>
<circle cx="998.9" cy="983.3" r="11.8"/>
<circle cx="986.3" cy="1032.7" r="11.8"/>
<circle cx="987.4" cy="1007.4" r="11.8"/>
<circle cx="943.8" cy="1032.7" r="11.8"/>
<circle cx="955.3" cy="1047.6" r="11.8"/>
<circle cx="953.0" cy="1025.8" r="11.8"/>
<circle cx="966.7" cy="1000.5" r="11.8"/>
<circle cx="954.1" cy="999.4" r="11.8"/>
<circle cx="942.6" cy="993.6" r="11.8"/>
<circle cx="790.3" cy="1131.4" r="11.8"/>
<circle cx="761.8" cy="1132.6" r="11.8"/>
<circle cx="635.9" cy="1123.9" r="11.8"/>
<circle cx="934.5" cy="1032.7" r="11.8"/>
<circle cx="936.8" cy="1016.6" r="11.8"/>
<circle cx="903.5" cy="1051.0" r="11.8"/>
<circle cx="910.4" cy="1039.6" r="11.8"/>
<circle cx="923.0" cy="1023.5" r="11.8"/>
<circle cx="909.2" cy="1021.2" r="11.8"/>
<circle cx="925.3" cy="1005.1" r="11.8"/>
<circle cx="909.2" cy="1005.1" r="11.8"/>
<circle cx="918.0" cy="985.6" r="11.8"/>
<circle cx="875.9" cy="1121.1" r="11.8"/>
<circle cx="877.1" cy="1082.1" r="11.8"/>
<circle cx="873.6" cy="1069.4" r="11.8"/>
<circle cx="856.4" cy="1052.9" r="11.8"/>
<circle cx="849.1" cy="1032.7" r="11.8"/>
<circle cx="880.5" cy="1030.4" r="11.8"/>
<circle cx="884.0" cy="1016.6" r="11.8"/>
<circle cx="884.0" cy="997.1" r="11.8"/>
<circle cx="872.5" cy="1001.7" r="11.8"/>
<circle cx="858.7" cy="1008.6" r="11.8"/>
<circle cx="839.2" cy="1008.6" r="11.8"/>
<circle cx="822.0" cy="1022.3" r="11.8"/>
<circle cx="814.6" cy="1004.0" r="11.8"/>
<circle cx="781.8" cy="1055.6" r="11.8"/>
<circle cx="786.4" cy="1039.6" r="11.8"/>
<circle cx="772.6" cy="1037.3" r="11.8"/>
<circle cx="789.1" cy="1012.0" r="11.8"/>
<circle cx="799.7" cy="980.3" r="11.8"/>
<circle cx="714.0" cy="1100.9" r="11.8"/>
<circle cx="741.1" cy="1067.8" r="11.8"/>
<circle cx="712.9" cy="1061.8" r="11.8"/>
<circle cx="753.1" cy="1020.0" r="11.8"/>
<circle cx="753.1" cy="1012.0" r="11.8"/>
<circle cx="735.8" cy="1022.3" r="11.8"/>
<circle cx="709.4" cy="1018.9" r="11.8"/>
<circle cx="704.8" cy="1039.6" r="11.8"/>
<circle cx="700.2" cy="1030.4" r="11.8"/>
<circle cx="691.0" cy="1023.5" r="11.8"/>
<circle cx="727.8" cy="1013.2" r="11.8"/>
<circle cx="720.9" cy="1006.3" r="11.8"/>
<circle cx="704.8" cy="1005.1" r="11.8"/>
<circle cx="693.3" cy="1001.7" r="11.8"/>
<circle cx="675.4" cy="1071.3" r="11.8"/>
<circle cx="661.2" cy="1076.3" r="11.8"/>
<circle cx="668.1" cy="1044.2" r="11.8"/>
<circle cx="668.1" cy="1025.8" r="11.8"/>
<circle cx="658.9" cy="1051.0" r="11.8"/>
<circle cx="649.7" cy="1041.9" r="11.8"/>
<circle cx="640.5" cy="1053.3" r="11.8"/>
<circle cx="633.6" cy="1075.2" r="11.8"/>
<circle cx="617.6" cy="1088.9" r="11.8"/>
<circle cx="603.8" cy="1048.8" r="11.8"/>
<circle cx="611.8" cy="1037.3" r="11.8"/>
<circle cx="642.4" cy="1022.3" r="11.8"/>
<circle cx="621.0" cy="1021.2" r="11.8"/>
<circle cx="681.9" cy="1041.9" r="11.8"/>
<circle cx="642.8" cy="1078.6" r="11.8"/>
<circle cx="658.9" cy="1037.3" r="11.8"/>
<circle cx="603.8" cy="1064.8" r="11.8"/>
<circle cx="647.4" cy="1064.8" r="11.8"/>
<circle cx="619.9" cy="1057.9" r="11.8"/>
<circle cx="629.0" cy="1039.6" r="11.8"/>
<circle cx="270.2" cy="1459.3" r="11.8"/>
<circle cx="298.9" cy="1378.5" r="11.8"/>
<circle cx="286.5" cy="1339.9" r="11.8"/>
<circle cx="599.1" cy="1130.4" r="11.8"/>
<circle cx="594.5" cy="1050.5" r="11.8"/>
<circle cx="582.3" cy="1066.1" r="11.8"/>
<circle cx="574.0" cy="1035.1" r="11.8"/>
<circle cx="560.5" cy="1051.9" r="11.8"/>
<circle cx="569.9" cy="1148.8" r="11.8"/>
<circle cx="573.8" cy="1130.4" r="11.8"/>
<circle cx="564.2" cy="1111.8" r="11.8"/>
<circle cx="561.2" cy="1090.7" r="11.8"/>
<circle cx="548.6" cy="1086.1" r="11.8"/>
<circle cx="545.1" cy="1078.1" r="11.8"/>
<circle cx="535.2" cy="1041.3" r="11.8"/>
<circle cx="513.6" cy="1047.1" r="11.8"/>
<circle cx="520.1" cy="1073.9" r="11.8"/>
<circle cx="509.5" cy="1075.8" r="11.8"/>
<circle cx="495.7" cy="1060.2" r="11.8"/>
<circle cx="500.3" cy="1140.3" r="11.8"/>
<circle cx="485.4" cy="1163.3" r="11.8"/>
<circle cx="456.7" cy="1179.1" r="11.8"/>
<circle cx="441.3" cy="1193.6" r="11.8"/>
<circle cx="432.1" cy="1183.7" r="11.8"/>
<circle cx="476.2" cy="1111.6" r="11.8"/>
<circle cx="475.1" cy="1096.7" r="11.8"/>
<circle cx="463.6" cy="1076.9" r="11.8"/>
<circle cx="455.1" cy="1076.9" r="11.8"/>
<circle cx="444.3" cy="1090.7" r="11.8"/>
<circle cx="442.2" cy="1141.7" r="11.8"/>
<circle cx="423.9" cy="1108.9" r="11.8"/>
<circle cx="413.7" cy="1146.5" r="11.8"/>
<circle cx="398.8" cy="1124.7" r="11.8"/>
<circle cx="380.4" cy="1165.8" r="11.8"/>
<circle cx="360.2" cy="1162.1" r="11.8"/>
<circle cx="351.0" cy="1172.2" r="11.8"/>
<circle cx="347.8" cy="1194.3" r="11.8"/>
</g>
<rect x="955" y="1387.2" width="641.2" height="91.2" fill="#d9d9d9"/>
<path d="M1020.2 1421.3l11.3 11.3l-11.3 11.3l-11.3 -11.3z" fill="#c00000"/>
<text transform="translate(1053.0 1454.3) scale(1.000 1.000)" text-anchor="start">Clustering</text>
<g fill="#00b0f0">
<circle cx="1394.7" cy="1433.0" r="12"/>
</g>
<text transform="translate(1427.0 1454.3) scale(1.000 1.000)" text-anchor="start">CNN</text>
<line x1="404.7" y1="1859.0" x2="404.7" y2="2392.5" stroke="#d9d9d9" stroke-width="1.9"/>
<line x1="540.0" y1="1859.0" x2="540.0" y2="2392.5" stroke="#d9d9d9" stroke-width="1.9"/>
<line x1="675.3" y1="1859.0" x2="675.3" y2="2392.5" stroke="#d9d9d9" stroke-width="1.9"/>
<line x1="810.6" y1="1859.0" x2="810.6" y2="2392.5" stroke="#d9d9d9" stroke-width="1.9"/>
<line x1="945.9" y1="1859.0" x2="945.9" y2="2392.5" stroke="#d9d9d9" stroke-width="1.9"/>
<line x1="1081.1" y1="1859.0" x2="1081.1" y2="2392.5" stroke="#d9d9d9" stroke-width="1.9"/>
<line x1="1216.4" y1="1859.0" x2="1216.4" y2="2392.5" stroke="#d9d9d9" stroke-width="1.9"/>
<line x1="1351.7" y1="1859.0" x2="1351.7" y2="2392.5" stroke="#d9d9d9" stroke-width="1.9"/>
<line x1="1487.0" y1="1859.0" x2="1487.0" y2="2392.5" stroke="#d9d9d9" stroke-width="1.9"/>
<line x1="269.4" y1="1859.0" x2="1622.3" y2="1859.0" stroke="#d9d9d9" stroke-width="1.9"/>
<line x1="269.4" y1="2036.8" x2="1622.3" y2="2036.8" stroke="#d9d9d9" stroke-width="1.9"/>
<line x1="269.4" y1="2214.7" x2="1622.3" y2="2214.7" stroke="#d9d9d9" stroke-width="1.9"/>
<line x1="1622.3" y1="1859.0" x2="1622.3" y2="2392.5" stroke="#d9d9d9" stroke-width="1.9"/>
<line x1="269.4" y1="1858.0" x2="269.4" y2="2393.5" stroke="#c3c3c3" stroke-width="1.9"/>
<line x1="268.4" y1="2392.5" x2="1623.3" y2="2392.5" stroke="#c3c3c3" stroke-width="1.9"/>
<text transform="translate(213.2 1880.7) scale(1.005 1.035)" text-anchor="end">1.00</text>
<text transform="translate(213.2 2058.5) scale(1.005 1.035)" text-anchor="end">0.90</text>
<text transform="translate(213.2 2236.4) scale(1.005 1.035)" text-anchor="end">0.80</text>
<text transform="translate(213.2 2414.2) scale(1.005 1.035)" text-anchor="end">0.70</text>
<text transform="translate(269.4 2490.8) scale(1.005 1.030)" text-anchor="middle">20</text>
<text transform="translate(404.7 2490.8) scale(1.005 1.030)" text-anchor="middle">30</text>
<text transform="translate(540.0 2490.8) scale(1.005 1.030)" text-anchor="middle">40</text>
<text transform="translate(675.3 2490.8) scale(1.005 1.030)" text-anchor="middle">50</text>
<text transform="translate(810.6 2490.8) scale(1.005 1.030)" text-anchor="middle">60</text>
<text transform="translate(945.9 2490.8) scale(1.005 1.030)" text-anchor="middle">70</text>
<text transform="translate(1081.1 2490.8) scale(1.005 1.030)" text-anchor="middle">80</text>
<text transform="translate(1216.4 2490.8) scale(1.005 1.030)" text-anchor="middle">90</text>
<text transform="translate(1351.7 2490.8) scale(1.005 1.030)" text-anchor="middle">100</text>
<text transform="translate(1487.0 2490.8) scale(1.005 1.030)" text-anchor="middle">110</text>
<text transform="translate(1622.3 2490.8) scale(1.005 1.030)" text-anchor="middle">120</text>
<text transform="translate(923.5 2600.0) scale(1.000 0.998)" text-anchor="middle">Height of ambiguity (m)</text>
<text transform="translate(922.6 2677.6) scale(1.000 1.011)" text-anchor="middle">(c)</text>
<text transform="translate(57.2 2117.0) rotate(-90) scale(1 1.030)" text-anchor="middle"><tspan class="i">F</tspan>-score</text>
<path d="M1600.5 2352.2l11.0 11.0l-11.0 11.0l-11.0 -11.0zM1560.6 2305.8l11.0 11.0l-11.0 11.0l-11.0 -11.0zM1451.2 2229.5l11.0 11.0l-11.0 11.0l-11.0 -11.0zM1418.2 2086.2l11.0 11.0l-11.0 11.0l-11.0 -11.0zM1389.7 2154.7l11.0 11.0l-11.0 11.0l-11.0 -11.0zM1351.1 2123.0l11.0 11.0l-11.0 11.0l-11.0 -11.0zM1312.5 2092.2l11.0 11.0l-11.0 11.0l-11.0 -11.0zM1301.9 2034.3l11.0 11.0l-11.0 11.0l-11.0 -11.0zM1279.4 2020.5l11.0 11.0l-11.0 11.0l-11.0 -11.0zM1204.6 2032.0l11.0 11.0l-11.0 11.0l-11.0 -11.0zM1190.8 1987.9l11.0 11.0l-11.0 11.0l-11.0 -11.0zM1142.1 1949.3l11.0 11.0l-11.0 11.0l-11.0 -11.0zM1136.1 1951.2l11.0 11.0l-11.0 11.0l-11.0 -11.0zM980.4 1976.4l11.0 11.0l-11.0 11.0l-11.0 -11.0zM813.6 2125.3l11.0 11.0l-11.0 11.0l-11.0 -11.0zM816.8 2072.9l11.0 11.0l-11.0 11.0l-11.0 -11.0zM888.5 1993.4l11.0 11.0l-11.0 11.0l-11.0 -11.0zM885.7 1966.8l11.0 11.0l-11.0 11.0l-11.0 -11.0zM866.4 1971.9l11.0 11.0l-11.0 11.0l-11.0 -11.0zM832.9 1955.8l11.0 11.0l-11.0 11.0l-11.0 -11.0zM813.1 1970.5l11.0 11.0l-11.0 11.0l-11.0 -11.0zM775.0 2019.2l11.0 11.0l-11.0 11.0l-11.0 -11.0zM751.6 1994.4l11.0 11.0l-11.0 11.0l-11.0 -11.0zM746.1 1971.9l11.0 11.0l-11.0 11.0l-11.0 -11.0zM715.3 1986.1l11.0 11.0l-11.0 11.0l-11.0 -11.0zM702.0 1958.1l11.0 11.0l-11.0 11.0l-11.0 -11.0zM559.6 1966.8l11.0 11.0l-11.0 11.0l-11.0 -11.0zM519.2 1976.0l11.0 11.0l-11.0 11.0l-11.0 -11.0zM487.9 1986.1l11.0 11.0l-11.0 11.0l-11.0 -11.0zM278.0 2098.2l11.0 11.0l-11.0 11.0l-11.0 -11.0zM269.8 2093.1l11.0 11.0l-11.0 11.0l-11.0 -11.0z" fill="#c00000"/>
<g fill="#00b0f0">
<circle cx="1601.0" cy="1886.9" r="12"/>
<circle cx="1561.0" cy="1887.8" r="12"/>
<circle cx="1452.1" cy="1884.6" r="12"/>
<circle cx="1419.1" cy="1886.9" r="12"/>
<circle cx="1390.6" cy="1885.9" r="12"/>
<circle cx="1352.0" cy="1883.6" r="12"/>
<circle cx="1313.4" cy="1898.3" r="12"/>
<circle cx="1302.9" cy="1903.4" r="12"/>
<circle cx="1279.9" cy="1909.8" r="12"/>
<circle cx="1205.5" cy="1900.6" r="12"/>
<circle cx="1191.3" cy="1899.3" r="12"/>
<circle cx="1142.6" cy="1940.1" r="12"/>
<circle cx="1136.6" cy="1936.0" r="12"/>
<circle cx="981.3" cy="1910.7" r="12"/>
<circle cx="813.6" cy="1997.5" r="12"/>
<circle cx="817.3" cy="1989.3" r="12"/>
<circle cx="888.9" cy="1918.1" r="12"/>
<circle cx="886.6" cy="1900.6" r="12"/>
<circle cx="866.9" cy="1900.2" r="12"/>
<circle cx="833.3" cy="1932.3" r="12"/>
<circle cx="815.0" cy="1912.6" r="12"/>
<circle cx="775.5" cy="1896.0" r="12"/>
<circle cx="752.5" cy="1928.2" r="12"/>
<circle cx="746.5" cy="1909.8" r="12"/>
<circle cx="716.2" cy="1934.6" r="12"/>
<circle cx="702.4" cy="1899.3" r="12"/>
<circle cx="560.5" cy="1958.5" r="12"/>
<circle cx="519.6" cy="1959.9" r="12"/>
<circle cx="488.8" cy="1925.4" r="12"/>
<circle cx="278.9" cy="1972.3" r="12"/>
<circle cx="270.2" cy="1970.9" r="12"/>
</g>
<rect x="285.8" y="2258" width="625.4" height="105" fill="#d9d9d9"/>
<path d="M346.5 2299.0l11.0 11.0l-11.0 11.0l-11.0 -11.0z" fill="#c00000"/>
<text transform="translate(379.5 2331.5) scale(1.000 1.000)" text-anchor="start">Clustering</text>
<g fill="#00b0f0">
<circle cx="715.0" cy="2310.5" r="12"/>
</g>
<text transform="translate(747.5 2331.5) scale(1.000 1.000)" text-anchor="start">CNN</text>
</svg></body></html>
